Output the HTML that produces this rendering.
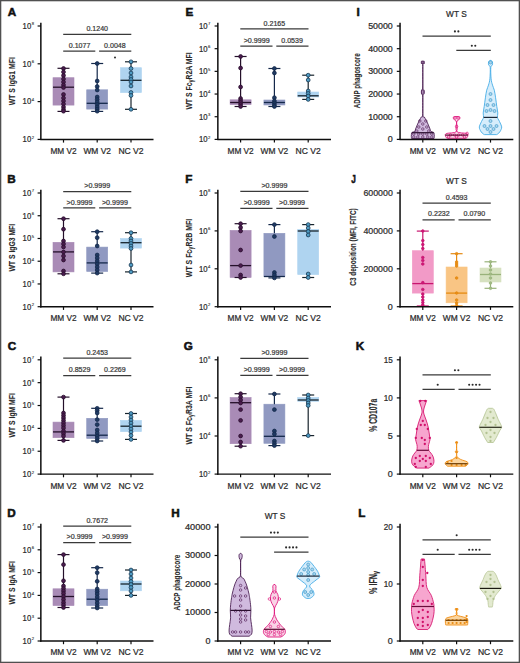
<!DOCTYPE html>
<html><head><meta charset="utf-8"><style>
html,body{margin:0;padding:0;background:#fff;}
.wrap{position:relative;width:520px;height:663px;overflow:hidden;background:#fff;}
svg{position:absolute;left:0;top:0;}
text{font-family:"Liberation Sans", sans-serif;}
</style></head><body><div class="wrap">
<svg width="520" height="663" viewBox="0 0 520 663" shape-rendering="geometricPrecision">
<rect x="0" y="0" width="520" height="663" fill="#fff"/>
<line x1="37.6" y1="26" x2="41" y2="26" stroke="#0e0e0e" stroke-width="1.2" />
<text x="31.2" y="28.85" font-size="9.0" text-anchor="end" font-weight="normal" fill="#2a2a2a" stroke="#2a2a2a" stroke-width="0.22" textLength="8.6" lengthAdjust="spacingAndGlyphs" >10</text>
<text x="31.7" y="25.4" font-size="4.2" text-anchor="start" font-weight="normal" fill="#2a2a2a" stroke="#2a2a2a" stroke-width="0.1" >8</text>
<line x1="37.6" y1="63.8" x2="41" y2="63.8" stroke="#0e0e0e" stroke-width="1.2" />
<text x="31.2" y="66.65" font-size="9.0" text-anchor="end" font-weight="normal" fill="#2a2a2a" stroke="#2a2a2a" stroke-width="0.22" textLength="8.6" lengthAdjust="spacingAndGlyphs" >10</text>
<text x="31.7" y="63.2" font-size="4.2" text-anchor="start" font-weight="normal" fill="#2a2a2a" stroke="#2a2a2a" stroke-width="0.1" >6</text>
<line x1="37.6" y1="101.6" x2="41" y2="101.6" stroke="#0e0e0e" stroke-width="1.2" />
<text x="31.2" y="104.45" font-size="9.0" text-anchor="end" font-weight="normal" fill="#2a2a2a" stroke="#2a2a2a" stroke-width="0.22" textLength="8.6" lengthAdjust="spacingAndGlyphs" >10</text>
<text x="31.7" y="101" font-size="4.2" text-anchor="start" font-weight="normal" fill="#2a2a2a" stroke="#2a2a2a" stroke-width="0.1" >4</text>
<line x1="37.6" y1="139.4" x2="41" y2="139.4" stroke="#0e0e0e" stroke-width="1.2" />
<text x="31.2" y="142.25" font-size="9.0" text-anchor="end" font-weight="normal" fill="#2a2a2a" stroke="#2a2a2a" stroke-width="0.22" textLength="8.6" lengthAdjust="spacingAndGlyphs" >10</text>
<text x="31.7" y="138.8" font-size="4.2" text-anchor="start" font-weight="normal" fill="#2a2a2a" stroke="#2a2a2a" stroke-width="0.1" >2</text>
<line x1="63.5" y1="139.4" x2="63.5" y2="142.6" stroke="#0e0e0e" stroke-width="1.2" />
<line x1="97.2" y1="139.4" x2="97.2" y2="142.6" stroke="#0e0e0e" stroke-width="1.2" />
<line x1="131" y1="139.4" x2="131" y2="142.6" stroke="#0e0e0e" stroke-width="1.2" />
<text x="63.5" y="153.8" font-size="8.3" text-anchor="middle" font-weight="normal" fill="#2a2a2a" stroke="#2a2a2a" stroke-width="0.22" textLength="26.2" lengthAdjust="spacingAndGlyphs" >MM V2</text>
<text x="97.2" y="153.8" font-size="8.3" text-anchor="middle" font-weight="normal" fill="#2a2a2a" stroke="#2a2a2a" stroke-width="0.22" textLength="27.6" lengthAdjust="spacingAndGlyphs" >WM V2</text>
<text x="131" y="153.8" font-size="8.3" text-anchor="middle" font-weight="normal" fill="#2a2a2a" stroke="#2a2a2a" stroke-width="0.22" textLength="25.2" lengthAdjust="spacingAndGlyphs" >NC V2</text>
<text transform="translate(14.7,81.2) rotate(-90)" font-size="9.3" text-anchor="middle" font-weight="bold" fill="#2a2a2a" stroke="#2a2a2a" stroke-width="0.1" textLength="48" lengthAdjust="spacingAndGlyphs">WT S IgG1 MFI</text>
<text x="7.75" y="15.55" font-size="11.7" text-anchor="start" font-weight="bold" fill="#111" stroke="#111" stroke-width="0.55" >A</text>
<line x1="63.2" y1="34.3" x2="131.3" y2="34.3" stroke="#3a3a3a" stroke-width="1.25" />
<text x="97.25" y="30.9" font-size="7.0" text-anchor="middle" font-weight="normal" fill="#3a3a3a" stroke="#3a3a3a" stroke-width="0.22" textLength="21.6" lengthAdjust="spacingAndGlyphs" >0.1240</text>
<line x1="63.2" y1="51" x2="95.3" y2="51" stroke="#3a3a3a" stroke-width="1.25" />
<text x="79.55" y="47.6" font-size="7.0" text-anchor="middle" font-weight="normal" fill="#3a3a3a" stroke="#3a3a3a" stroke-width="0.22" textLength="21.6" lengthAdjust="spacingAndGlyphs" >0.1077</text>
<line x1="99.1" y1="51" x2="131.3" y2="51" stroke="#3a3a3a" stroke-width="1.25" />
<text x="114.9" y="47.6" font-size="7.0" text-anchor="middle" font-weight="normal" fill="#3a3a3a" stroke="#3a3a3a" stroke-width="0.22" textLength="21.6" lengthAdjust="spacingAndGlyphs" >0.0048</text>
<circle cx="115" cy="57.6" r="1.0" fill="#2a2a2a"/>
<rect x="53" y="77.7" width="21" height="27.4" fill="#a98bb6" stroke="#a98bb6" stroke-width="0.6"/>
<line x1="63.5" y1="68.3" x2="63.5" y2="77.7" stroke="#24102a" stroke-width="1.2" />
<line x1="63.5" y1="105.1" x2="63.5" y2="111.4" stroke="#24102a" stroke-width="1.2" />
<line x1="57.5" y1="68.3" x2="69.5" y2="68.3" stroke="#24102a" stroke-width="1.2" />
<line x1="57.5" y1="111.4" x2="69.5" y2="111.4" stroke="#24102a" stroke-width="1.2" />
<line x1="53" y1="87.2" x2="74" y2="87.2" stroke="#24102a" stroke-width="1.3" />
<circle cx="63.5" cy="68.5" r="1.9" fill="#4a1c4d" stroke="#2a0f2e" stroke-width="0.8"/>
<circle cx="63.5" cy="72" r="1.9" fill="#4a1c4d" stroke="#2a0f2e" stroke-width="0.8"/>
<circle cx="63.5" cy="75.5" r="1.9" fill="#4a1c4d" stroke="#2a0f2e" stroke-width="0.8"/>
<circle cx="63.5" cy="79" r="1.9" fill="#4a1c4d" stroke="#2a0f2e" stroke-width="0.8"/>
<circle cx="63.5" cy="82" r="1.9" fill="#4a1c4d" stroke="#2a0f2e" stroke-width="0.8"/>
<circle cx="63.5" cy="85" r="1.9" fill="#4a1c4d" stroke="#2a0f2e" stroke-width="0.8"/>
<circle cx="63.5" cy="87.5" r="1.9" fill="#4a1c4d" stroke="#2a0f2e" stroke-width="0.8"/>
<circle cx="63.5" cy="94.5" r="1.9" fill="#4a1c4d" stroke="#2a0f2e" stroke-width="0.8"/>
<circle cx="63.5" cy="98" r="1.9" fill="#4a1c4d" stroke="#2a0f2e" stroke-width="0.8"/>
<circle cx="63.5" cy="101" r="1.9" fill="#4a1c4d" stroke="#2a0f2e" stroke-width="0.8"/>
<circle cx="63.5" cy="104" r="1.9" fill="#4a1c4d" stroke="#2a0f2e" stroke-width="0.8"/>
<circle cx="63.5" cy="107" r="1.9" fill="#4a1c4d" stroke="#2a0f2e" stroke-width="0.8"/>
<circle cx="63.5" cy="109.5" r="1.9" fill="#4a1c4d" stroke="#2a0f2e" stroke-width="0.8"/>
<circle cx="63.5" cy="111.2" r="1.9" fill="#4a1c4d" stroke="#2a0f2e" stroke-width="0.8"/>
<rect x="86.7" y="89.8" width="21" height="19.3" fill="#9099c1" stroke="#9099c1" stroke-width="0.6"/>
<line x1="97.2" y1="63.5" x2="97.2" y2="89.8" stroke="#14284a" stroke-width="1.2" />
<line x1="97.2" y1="109.1" x2="97.2" y2="111.4" stroke="#14284a" stroke-width="1.2" />
<line x1="91.2" y1="63.5" x2="103.2" y2="63.5" stroke="#14284a" stroke-width="1.2" />
<line x1="91.2" y1="111.4" x2="103.2" y2="111.4" stroke="#14284a" stroke-width="1.2" />
<line x1="86.7" y1="103.3" x2="107.7" y2="103.3" stroke="#14284a" stroke-width="1.3" />
<circle cx="97.2" cy="63.5" r="1.9" fill="#1f3a62" stroke="#14284a" stroke-width="0.8"/>
<circle cx="97.2" cy="81" r="1.9" fill="#1f3a62" stroke="#14284a" stroke-width="0.8"/>
<circle cx="97.2" cy="86.5" r="1.9" fill="#1f3a62" stroke="#14284a" stroke-width="0.8"/>
<circle cx="97.2" cy="90" r="1.9" fill="#1f3a62" stroke="#14284a" stroke-width="0.8"/>
<circle cx="97.2" cy="97" r="1.9" fill="#1f3a62" stroke="#14284a" stroke-width="0.8"/>
<circle cx="97.2" cy="99.5" r="1.9" fill="#1f3a62" stroke="#14284a" stroke-width="0.8"/>
<circle cx="97.2" cy="102" r="1.9" fill="#1f3a62" stroke="#14284a" stroke-width="0.8"/>
<circle cx="97.2" cy="104.5" r="1.9" fill="#1f3a62" stroke="#14284a" stroke-width="0.8"/>
<circle cx="97.2" cy="107" r="1.9" fill="#1f3a62" stroke="#14284a" stroke-width="0.8"/>
<circle cx="97.2" cy="109.2" r="1.9" fill="#1f3a62" stroke="#14284a" stroke-width="0.8"/>
<circle cx="97.2" cy="111.2" r="1.9" fill="#1f3a62" stroke="#14284a" stroke-width="0.8"/>
<rect x="120.5" y="67.7" width="21" height="24.9" fill="#afd4f0" stroke="#afd4f0" stroke-width="0.6"/>
<line x1="131" y1="61.8" x2="131" y2="67.7" stroke="#18242c" stroke-width="1.2" />
<line x1="131" y1="92.6" x2="131" y2="109.3" stroke="#18242c" stroke-width="1.2" />
<line x1="125" y1="61.8" x2="137" y2="61.8" stroke="#18242c" stroke-width="1.2" />
<line x1="125" y1="109.3" x2="137" y2="109.3" stroke="#18242c" stroke-width="1.2" />
<line x1="120.5" y1="80.3" x2="141.5" y2="80.3" stroke="#18242c" stroke-width="1.3" />
<circle cx="131" cy="61.8" r="1.9" fill="#4f9cc4" stroke="#163650" stroke-width="0.8"/>
<circle cx="131" cy="68.5" r="1.9" fill="#4f9cc4" stroke="#163650" stroke-width="0.8"/>
<circle cx="131" cy="73" r="1.9" fill="#4f9cc4" stroke="#163650" stroke-width="0.8"/>
<circle cx="131" cy="77" r="1.9" fill="#4f9cc4" stroke="#163650" stroke-width="0.8"/>
<circle cx="131" cy="79.5" r="1.9" fill="#4f9cc4" stroke="#163650" stroke-width="0.8"/>
<circle cx="131" cy="82" r="1.9" fill="#4f9cc4" stroke="#163650" stroke-width="0.8"/>
<circle cx="131" cy="86" r="1.9" fill="#4f9cc4" stroke="#163650" stroke-width="0.8"/>
<circle cx="131" cy="92.5" r="1.9" fill="#4f9cc4" stroke="#163650" stroke-width="0.8"/>
<circle cx="131" cy="95.5" r="1.9" fill="#4f9cc4" stroke="#163650" stroke-width="0.8"/>
<circle cx="131" cy="109.3" r="1.9" fill="#4f9cc4" stroke="#163650" stroke-width="0.8"/>
<line x1="37.6" y1="193" x2="41" y2="193" stroke="#0e0e0e" stroke-width="1.2" />
<text x="31.2" y="195.85" font-size="9.0" text-anchor="end" font-weight="normal" fill="#2a2a2a" stroke="#2a2a2a" stroke-width="0.22" textLength="8.6" lengthAdjust="spacingAndGlyphs" >10</text>
<text x="31.7" y="192.4" font-size="4.2" text-anchor="start" font-weight="normal" fill="#2a2a2a" stroke="#2a2a2a" stroke-width="0.1" >7</text>
<line x1="37.6" y1="215.74" x2="41" y2="215.74" stroke="#0e0e0e" stroke-width="1.2" />
<text x="31.2" y="218.59" font-size="9.0" text-anchor="end" font-weight="normal" fill="#2a2a2a" stroke="#2a2a2a" stroke-width="0.22" textLength="8.6" lengthAdjust="spacingAndGlyphs" >10</text>
<text x="31.7" y="215.14" font-size="4.2" text-anchor="start" font-weight="normal" fill="#2a2a2a" stroke="#2a2a2a" stroke-width="0.1" >6</text>
<line x1="37.6" y1="238.48" x2="41" y2="238.48" stroke="#0e0e0e" stroke-width="1.2" />
<text x="31.2" y="241.33" font-size="9.0" text-anchor="end" font-weight="normal" fill="#2a2a2a" stroke="#2a2a2a" stroke-width="0.22" textLength="8.6" lengthAdjust="spacingAndGlyphs" >10</text>
<text x="31.7" y="237.88" font-size="4.2" text-anchor="start" font-weight="normal" fill="#2a2a2a" stroke="#2a2a2a" stroke-width="0.1" >5</text>
<line x1="37.6" y1="261.22" x2="41" y2="261.22" stroke="#0e0e0e" stroke-width="1.2" />
<text x="31.2" y="264.07" font-size="9.0" text-anchor="end" font-weight="normal" fill="#2a2a2a" stroke="#2a2a2a" stroke-width="0.22" textLength="8.6" lengthAdjust="spacingAndGlyphs" >10</text>
<text x="31.7" y="260.62" font-size="4.2" text-anchor="start" font-weight="normal" fill="#2a2a2a" stroke="#2a2a2a" stroke-width="0.1" >4</text>
<line x1="37.6" y1="283.96" x2="41" y2="283.96" stroke="#0e0e0e" stroke-width="1.2" />
<text x="31.2" y="286.81" font-size="9.0" text-anchor="end" font-weight="normal" fill="#2a2a2a" stroke="#2a2a2a" stroke-width="0.22" textLength="8.6" lengthAdjust="spacingAndGlyphs" >10</text>
<text x="31.7" y="283.36" font-size="4.2" text-anchor="start" font-weight="normal" fill="#2a2a2a" stroke="#2a2a2a" stroke-width="0.1" >3</text>
<line x1="37.6" y1="306.7" x2="41" y2="306.7" stroke="#0e0e0e" stroke-width="1.2" />
<text x="31.2" y="309.55" font-size="9.0" text-anchor="end" font-weight="normal" fill="#2a2a2a" stroke="#2a2a2a" stroke-width="0.22" textLength="8.6" lengthAdjust="spacingAndGlyphs" >10</text>
<text x="31.7" y="306.1" font-size="4.2" text-anchor="start" font-weight="normal" fill="#2a2a2a" stroke="#2a2a2a" stroke-width="0.1" >2</text>
<line x1="63.5" y1="306.7" x2="63.5" y2="309.9" stroke="#0e0e0e" stroke-width="1.2" />
<line x1="97.2" y1="306.7" x2="97.2" y2="309.9" stroke="#0e0e0e" stroke-width="1.2" />
<line x1="131" y1="306.7" x2="131" y2="309.9" stroke="#0e0e0e" stroke-width="1.2" />
<text x="63.5" y="321.1" font-size="8.3" text-anchor="middle" font-weight="normal" fill="#2a2a2a" stroke="#2a2a2a" stroke-width="0.22" textLength="26.2" lengthAdjust="spacingAndGlyphs" >MM V2</text>
<text x="97.2" y="321.1" font-size="8.3" text-anchor="middle" font-weight="normal" fill="#2a2a2a" stroke="#2a2a2a" stroke-width="0.22" textLength="27.6" lengthAdjust="spacingAndGlyphs" >WM V2</text>
<text x="131" y="321.1" font-size="8.3" text-anchor="middle" font-weight="normal" fill="#2a2a2a" stroke="#2a2a2a" stroke-width="0.22" textLength="25.2" lengthAdjust="spacingAndGlyphs" >NC V2</text>
<text transform="translate(14.7,247.7) rotate(-90)" font-size="9.3" text-anchor="middle" font-weight="bold" fill="#2a2a2a" stroke="#2a2a2a" stroke-width="0.1" textLength="47.6" lengthAdjust="spacingAndGlyphs">WT S IgG3 MFI</text>
<text x="7.15" y="182.75" font-size="11.7" text-anchor="start" font-weight="bold" fill="#111" stroke="#111" stroke-width="0.55" >B</text>
<line x1="63.2" y1="191.5" x2="131.3" y2="191.5" stroke="#3a3a3a" stroke-width="1.25" />
<text x="97.25" y="188.1" font-size="7.0" text-anchor="middle" font-weight="normal" fill="#3a3a3a" stroke="#3a3a3a" stroke-width="0.22" textLength="26" lengthAdjust="spacingAndGlyphs" >&gt;0.9999</text>
<line x1="63.2" y1="207.9" x2="95.3" y2="207.9" stroke="#3a3a3a" stroke-width="1.25" />
<text x="79.55" y="204.5" font-size="7.0" text-anchor="middle" font-weight="normal" fill="#3a3a3a" stroke="#3a3a3a" stroke-width="0.22" textLength="26" lengthAdjust="spacingAndGlyphs" >&gt;0.9999</text>
<line x1="99.1" y1="207.9" x2="131.3" y2="207.9" stroke="#3a3a3a" stroke-width="1.25" />
<text x="114.9" y="204.5" font-size="7.0" text-anchor="middle" font-weight="normal" fill="#3a3a3a" stroke="#3a3a3a" stroke-width="0.22" textLength="26" lengthAdjust="spacingAndGlyphs" >&gt;0.9999</text>
<rect x="53" y="242.3" width="21" height="29.6" fill="#a98bb6" stroke="#a98bb6" stroke-width="0.6"/>
<line x1="63.5" y1="218.7" x2="63.5" y2="242.3" stroke="#24102a" stroke-width="1.2" />
<line x1="63.5" y1="271.9" x2="63.5" y2="273.8" stroke="#24102a" stroke-width="1.2" />
<line x1="57.5" y1="218.7" x2="69.5" y2="218.7" stroke="#24102a" stroke-width="1.2" />
<line x1="57.5" y1="273.8" x2="69.5" y2="273.8" stroke="#24102a" stroke-width="1.2" />
<line x1="53" y1="251.9" x2="74" y2="251.9" stroke="#24102a" stroke-width="1.3" />
<circle cx="63.5" cy="218.7" r="1.9" fill="#4a1c4d" stroke="#2a0f2e" stroke-width="0.8"/>
<circle cx="63.5" cy="229.2" r="1.9" fill="#4a1c4d" stroke="#2a0f2e" stroke-width="0.8"/>
<circle cx="63.5" cy="241" r="1.9" fill="#4a1c4d" stroke="#2a0f2e" stroke-width="0.8"/>
<circle cx="63.5" cy="244" r="1.9" fill="#4a1c4d" stroke="#2a0f2e" stroke-width="0.8"/>
<circle cx="63.5" cy="247" r="1.9" fill="#4a1c4d" stroke="#2a0f2e" stroke-width="0.8"/>
<circle cx="63.5" cy="252" r="1.9" fill="#4a1c4d" stroke="#2a0f2e" stroke-width="0.8"/>
<circle cx="63.5" cy="256" r="1.9" fill="#4a1c4d" stroke="#2a0f2e" stroke-width="0.8"/>
<circle cx="63.5" cy="260" r="1.9" fill="#4a1c4d" stroke="#2a0f2e" stroke-width="0.8"/>
<circle cx="63.5" cy="271" r="1.9" fill="#4a1c4d" stroke="#2a0f2e" stroke-width="0.8"/>
<circle cx="63.5" cy="273.8" r="1.9" fill="#4a1c4d" stroke="#2a0f2e" stroke-width="0.8"/>
<rect x="86.7" y="247.1" width="21" height="24.4" fill="#9099c1" stroke="#9099c1" stroke-width="0.6"/>
<line x1="97.2" y1="231.7" x2="97.2" y2="247.1" stroke="#14284a" stroke-width="1.2" />
<line x1="97.2" y1="271.5" x2="97.2" y2="273.1" stroke="#14284a" stroke-width="1.2" />
<line x1="91.2" y1="231.7" x2="103.2" y2="231.7" stroke="#14284a" stroke-width="1.2" />
<line x1="91.2" y1="273.1" x2="103.2" y2="273.1" stroke="#14284a" stroke-width="1.2" />
<line x1="86.7" y1="262.9" x2="107.7" y2="262.9" stroke="#14284a" stroke-width="1.3" />
<circle cx="97.2" cy="231.7" r="1.9" fill="#1f3a62" stroke="#14284a" stroke-width="0.8"/>
<circle cx="97.2" cy="237.7" r="1.9" fill="#1f3a62" stroke="#14284a" stroke-width="0.8"/>
<circle cx="97.2" cy="246" r="1.9" fill="#1f3a62" stroke="#14284a" stroke-width="0.8"/>
<circle cx="97.2" cy="255" r="1.9" fill="#1f3a62" stroke="#14284a" stroke-width="0.8"/>
<circle cx="97.2" cy="258" r="1.9" fill="#1f3a62" stroke="#14284a" stroke-width="0.8"/>
<circle cx="97.2" cy="261" r="1.9" fill="#1f3a62" stroke="#14284a" stroke-width="0.8"/>
<circle cx="97.2" cy="264" r="1.9" fill="#1f3a62" stroke="#14284a" stroke-width="0.8"/>
<circle cx="97.2" cy="267" r="1.9" fill="#1f3a62" stroke="#14284a" stroke-width="0.8"/>
<circle cx="97.2" cy="270" r="1.9" fill="#1f3a62" stroke="#14284a" stroke-width="0.8"/>
<circle cx="97.2" cy="273.1" r="1.9" fill="#1f3a62" stroke="#14284a" stroke-width="0.8"/>
<rect x="120.5" y="238.5" width="21" height="9.6" fill="#afd4f0" stroke="#afd4f0" stroke-width="0.6"/>
<line x1="131" y1="232.7" x2="131" y2="238.5" stroke="#18242c" stroke-width="1.2" />
<line x1="131" y1="248.1" x2="131" y2="271.9" stroke="#18242c" stroke-width="1.2" />
<line x1="125" y1="232.7" x2="137" y2="232.7" stroke="#18242c" stroke-width="1.2" />
<line x1="125" y1="271.9" x2="137" y2="271.9" stroke="#18242c" stroke-width="1.2" />
<line x1="120.5" y1="242.7" x2="141.5" y2="242.7" stroke="#18242c" stroke-width="1.3" />
<circle cx="131" cy="232.7" r="1.9" fill="#4f9cc4" stroke="#163650" stroke-width="0.8"/>
<circle cx="131" cy="238.5" r="1.9" fill="#4f9cc4" stroke="#163650" stroke-width="0.8"/>
<circle cx="131" cy="241" r="1.9" fill="#4f9cc4" stroke="#163650" stroke-width="0.8"/>
<circle cx="131" cy="243.5" r="1.9" fill="#4f9cc4" stroke="#163650" stroke-width="0.8"/>
<circle cx="131" cy="246" r="1.9" fill="#4f9cc4" stroke="#163650" stroke-width="0.8"/>
<circle cx="131" cy="248.5" r="1.9" fill="#4f9cc4" stroke="#163650" stroke-width="0.8"/>
<circle cx="131" cy="265" r="1.9" fill="#4f9cc4" stroke="#163650" stroke-width="0.8"/>
<circle cx="131" cy="271.9" r="1.9" fill="#4f9cc4" stroke="#163650" stroke-width="0.8"/>
<line x1="37.6" y1="359.8" x2="41" y2="359.8" stroke="#0e0e0e" stroke-width="1.2" />
<text x="31.2" y="362.65" font-size="9.0" text-anchor="end" font-weight="normal" fill="#2a2a2a" stroke="#2a2a2a" stroke-width="0.22" textLength="8.6" lengthAdjust="spacingAndGlyphs" >10</text>
<text x="31.7" y="359.2" font-size="4.2" text-anchor="start" font-weight="normal" fill="#2a2a2a" stroke="#2a2a2a" stroke-width="0.1" >7</text>
<line x1="37.6" y1="382.66" x2="41" y2="382.66" stroke="#0e0e0e" stroke-width="1.2" />
<text x="31.2" y="385.51" font-size="9.0" text-anchor="end" font-weight="normal" fill="#2a2a2a" stroke="#2a2a2a" stroke-width="0.22" textLength="8.6" lengthAdjust="spacingAndGlyphs" >10</text>
<text x="31.7" y="382.06" font-size="4.2" text-anchor="start" font-weight="normal" fill="#2a2a2a" stroke="#2a2a2a" stroke-width="0.1" >6</text>
<line x1="37.6" y1="405.52" x2="41" y2="405.52" stroke="#0e0e0e" stroke-width="1.2" />
<text x="31.2" y="408.37" font-size="9.0" text-anchor="end" font-weight="normal" fill="#2a2a2a" stroke="#2a2a2a" stroke-width="0.22" textLength="8.6" lengthAdjust="spacingAndGlyphs" >10</text>
<text x="31.7" y="404.92" font-size="4.2" text-anchor="start" font-weight="normal" fill="#2a2a2a" stroke="#2a2a2a" stroke-width="0.1" >5</text>
<line x1="37.6" y1="428.38" x2="41" y2="428.38" stroke="#0e0e0e" stroke-width="1.2" />
<text x="31.2" y="431.23" font-size="9.0" text-anchor="end" font-weight="normal" fill="#2a2a2a" stroke="#2a2a2a" stroke-width="0.22" textLength="8.6" lengthAdjust="spacingAndGlyphs" >10</text>
<text x="31.7" y="427.78" font-size="4.2" text-anchor="start" font-weight="normal" fill="#2a2a2a" stroke="#2a2a2a" stroke-width="0.1" >4</text>
<line x1="37.6" y1="451.24" x2="41" y2="451.24" stroke="#0e0e0e" stroke-width="1.2" />
<text x="31.2" y="454.09" font-size="9.0" text-anchor="end" font-weight="normal" fill="#2a2a2a" stroke="#2a2a2a" stroke-width="0.22" textLength="8.6" lengthAdjust="spacingAndGlyphs" >10</text>
<text x="31.7" y="450.64" font-size="4.2" text-anchor="start" font-weight="normal" fill="#2a2a2a" stroke="#2a2a2a" stroke-width="0.1" >3</text>
<line x1="37.6" y1="474.1" x2="41" y2="474.1" stroke="#0e0e0e" stroke-width="1.2" />
<text x="31.2" y="476.95" font-size="9.0" text-anchor="end" font-weight="normal" fill="#2a2a2a" stroke="#2a2a2a" stroke-width="0.22" textLength="8.6" lengthAdjust="spacingAndGlyphs" >10</text>
<text x="31.7" y="473.5" font-size="4.2" text-anchor="start" font-weight="normal" fill="#2a2a2a" stroke="#2a2a2a" stroke-width="0.1" >2</text>
<line x1="63.5" y1="474.1" x2="63.5" y2="477.3" stroke="#0e0e0e" stroke-width="1.2" />
<line x1="97.2" y1="474.1" x2="97.2" y2="477.3" stroke="#0e0e0e" stroke-width="1.2" />
<line x1="131" y1="474.1" x2="131" y2="477.3" stroke="#0e0e0e" stroke-width="1.2" />
<text x="63.5" y="488.5" font-size="8.3" text-anchor="middle" font-weight="normal" fill="#2a2a2a" stroke="#2a2a2a" stroke-width="0.22" textLength="26.2" lengthAdjust="spacingAndGlyphs" >MM V2</text>
<text x="97.2" y="488.5" font-size="8.3" text-anchor="middle" font-weight="normal" fill="#2a2a2a" stroke="#2a2a2a" stroke-width="0.22" textLength="27.6" lengthAdjust="spacingAndGlyphs" >WM V2</text>
<text x="131" y="488.5" font-size="8.3" text-anchor="middle" font-weight="normal" fill="#2a2a2a" stroke="#2a2a2a" stroke-width="0.22" textLength="25.2" lengthAdjust="spacingAndGlyphs" >NC V2</text>
<text transform="translate(14.7,415.3) rotate(-90)" font-size="9.3" text-anchor="middle" font-weight="bold" fill="#2a2a2a" stroke="#2a2a2a" stroke-width="0.1" textLength="44.2" lengthAdjust="spacingAndGlyphs">WT S IgM MFI</text>
<text x="7.75" y="350.05" font-size="11.7" text-anchor="start" font-weight="bold" fill="#111" stroke="#111" stroke-width="0.55" >C</text>
<line x1="63.2" y1="358.2" x2="131.3" y2="358.2" stroke="#3a3a3a" stroke-width="1.25" />
<text x="97.25" y="354.8" font-size="7.0" text-anchor="middle" font-weight="normal" fill="#3a3a3a" stroke="#3a3a3a" stroke-width="0.22" textLength="21.6" lengthAdjust="spacingAndGlyphs" >0.2453</text>
<line x1="63.2" y1="375.5" x2="95.3" y2="375.5" stroke="#3a3a3a" stroke-width="1.25" />
<text x="79.55" y="372.1" font-size="7.0" text-anchor="middle" font-weight="normal" fill="#3a3a3a" stroke="#3a3a3a" stroke-width="0.22" textLength="21.6" lengthAdjust="spacingAndGlyphs" >0.8529</text>
<line x1="99.1" y1="375.5" x2="131.3" y2="375.5" stroke="#3a3a3a" stroke-width="1.25" />
<text x="114.9" y="372.1" font-size="7.0" text-anchor="middle" font-weight="normal" fill="#3a3a3a" stroke="#3a3a3a" stroke-width="0.22" textLength="21.6" lengthAdjust="spacingAndGlyphs" >0.2269</text>
<rect x="53" y="422.1" width="21" height="15.6" fill="#a98bb6" stroke="#a98bb6" stroke-width="0.6"/>
<line x1="63.5" y1="397.1" x2="63.5" y2="422.1" stroke="#24102a" stroke-width="1.2" />
<line x1="63.5" y1="437.7" x2="63.5" y2="440.4" stroke="#24102a" stroke-width="1.2" />
<line x1="57.5" y1="397.1" x2="69.5" y2="397.1" stroke="#24102a" stroke-width="1.2" />
<line x1="57.5" y1="440.4" x2="69.5" y2="440.4" stroke="#24102a" stroke-width="1.2" />
<line x1="53" y1="431.9" x2="74" y2="431.9" stroke="#24102a" stroke-width="1.3" />
<circle cx="63.5" cy="397.1" r="1.9" fill="#4a1c4d" stroke="#2a0f2e" stroke-width="0.8"/>
<circle cx="63.5" cy="413" r="1.9" fill="#4a1c4d" stroke="#2a0f2e" stroke-width="0.8"/>
<circle cx="63.5" cy="415.5" r="1.9" fill="#4a1c4d" stroke="#2a0f2e" stroke-width="0.8"/>
<circle cx="63.5" cy="418" r="1.9" fill="#4a1c4d" stroke="#2a0f2e" stroke-width="0.8"/>
<circle cx="63.5" cy="420.5" r="1.9" fill="#4a1c4d" stroke="#2a0f2e" stroke-width="0.8"/>
<circle cx="63.5" cy="423" r="1.9" fill="#4a1c4d" stroke="#2a0f2e" stroke-width="0.8"/>
<circle cx="63.5" cy="425.5" r="1.9" fill="#4a1c4d" stroke="#2a0f2e" stroke-width="0.8"/>
<circle cx="63.5" cy="428" r="1.9" fill="#4a1c4d" stroke="#2a0f2e" stroke-width="0.8"/>
<circle cx="63.5" cy="431" r="1.9" fill="#4a1c4d" stroke="#2a0f2e" stroke-width="0.8"/>
<circle cx="63.5" cy="433.5" r="1.9" fill="#4a1c4d" stroke="#2a0f2e" stroke-width="0.8"/>
<circle cx="63.5" cy="436" r="1.9" fill="#4a1c4d" stroke="#2a0f2e" stroke-width="0.8"/>
<circle cx="63.5" cy="440.4" r="1.9" fill="#4a1c4d" stroke="#2a0f2e" stroke-width="0.8"/>
<rect x="86.7" y="418.3" width="21" height="20.2" fill="#9099c1" stroke="#9099c1" stroke-width="0.6"/>
<line x1="97.2" y1="408.3" x2="97.2" y2="418.3" stroke="#14284a" stroke-width="1.2" />
<line x1="97.2" y1="438.5" x2="97.2" y2="441" stroke="#14284a" stroke-width="1.2" />
<line x1="91.2" y1="408.3" x2="103.2" y2="408.3" stroke="#14284a" stroke-width="1.2" />
<line x1="91.2" y1="441" x2="103.2" y2="441" stroke="#14284a" stroke-width="1.2" />
<line x1="86.7" y1="435.2" x2="107.7" y2="435.2" stroke="#14284a" stroke-width="1.3" />
<circle cx="97.2" cy="408.3" r="1.9" fill="#1f3a62" stroke="#14284a" stroke-width="0.8"/>
<circle cx="97.2" cy="410.5" r="1.9" fill="#1f3a62" stroke="#14284a" stroke-width="0.8"/>
<circle cx="97.2" cy="413" r="1.9" fill="#1f3a62" stroke="#14284a" stroke-width="0.8"/>
<circle cx="97.2" cy="419.6" r="1.9" fill="#1f3a62" stroke="#14284a" stroke-width="0.8"/>
<circle cx="97.2" cy="424.6" r="1.9" fill="#1f3a62" stroke="#14284a" stroke-width="0.8"/>
<circle cx="97.2" cy="430" r="1.9" fill="#1f3a62" stroke="#14284a" stroke-width="0.8"/>
<circle cx="97.2" cy="433" r="1.9" fill="#1f3a62" stroke="#14284a" stroke-width="0.8"/>
<circle cx="97.2" cy="436" r="1.9" fill="#1f3a62" stroke="#14284a" stroke-width="0.8"/>
<circle cx="97.2" cy="438.5" r="1.9" fill="#1f3a62" stroke="#14284a" stroke-width="0.8"/>
<circle cx="97.2" cy="441" r="1.9" fill="#1f3a62" stroke="#14284a" stroke-width="0.8"/>
<rect x="120.5" y="420.4" width="21" height="11.3" fill="#afd4f0" stroke="#afd4f0" stroke-width="0.6"/>
<line x1="131" y1="413.5" x2="131" y2="420.4" stroke="#18242c" stroke-width="1.2" />
<line x1="131" y1="431.7" x2="131" y2="439.4" stroke="#18242c" stroke-width="1.2" />
<line x1="125" y1="413.5" x2="137" y2="413.5" stroke="#18242c" stroke-width="1.2" />
<line x1="125" y1="439.4" x2="137" y2="439.4" stroke="#18242c" stroke-width="1.2" />
<line x1="120.5" y1="426.2" x2="141.5" y2="426.2" stroke="#18242c" stroke-width="1.3" />
<circle cx="131" cy="413.5" r="1.9" fill="#4f9cc4" stroke="#163650" stroke-width="0.8"/>
<circle cx="131" cy="417" r="1.9" fill="#4f9cc4" stroke="#163650" stroke-width="0.8"/>
<circle cx="131" cy="420" r="1.9" fill="#4f9cc4" stroke="#163650" stroke-width="0.8"/>
<circle cx="131" cy="423" r="1.9" fill="#4f9cc4" stroke="#163650" stroke-width="0.8"/>
<circle cx="131" cy="426" r="1.9" fill="#4f9cc4" stroke="#163650" stroke-width="0.8"/>
<circle cx="131" cy="429" r="1.9" fill="#4f9cc4" stroke="#163650" stroke-width="0.8"/>
<circle cx="131" cy="432" r="1.9" fill="#4f9cc4" stroke="#163650" stroke-width="0.8"/>
<circle cx="131" cy="435.5" r="1.9" fill="#4f9cc4" stroke="#163650" stroke-width="0.8"/>
<circle cx="131" cy="439.4" r="1.9" fill="#4f9cc4" stroke="#163650" stroke-width="0.8"/>
<line x1="37.6" y1="527" x2="41" y2="527" stroke="#0e0e0e" stroke-width="1.2" />
<text x="31.2" y="529.85" font-size="9.0" text-anchor="end" font-weight="normal" fill="#2a2a2a" stroke="#2a2a2a" stroke-width="0.22" textLength="8.6" lengthAdjust="spacingAndGlyphs" >10</text>
<text x="31.7" y="526.4" font-size="4.2" text-anchor="start" font-weight="normal" fill="#2a2a2a" stroke="#2a2a2a" stroke-width="0.1" >7</text>
<line x1="37.6" y1="549.8" x2="41" y2="549.8" stroke="#0e0e0e" stroke-width="1.2" />
<text x="31.2" y="552.65" font-size="9.0" text-anchor="end" font-weight="normal" fill="#2a2a2a" stroke="#2a2a2a" stroke-width="0.22" textLength="8.6" lengthAdjust="spacingAndGlyphs" >10</text>
<text x="31.7" y="549.2" font-size="4.2" text-anchor="start" font-weight="normal" fill="#2a2a2a" stroke="#2a2a2a" stroke-width="0.1" >6</text>
<line x1="37.6" y1="572.6" x2="41" y2="572.6" stroke="#0e0e0e" stroke-width="1.2" />
<text x="31.2" y="575.45" font-size="9.0" text-anchor="end" font-weight="normal" fill="#2a2a2a" stroke="#2a2a2a" stroke-width="0.22" textLength="8.6" lengthAdjust="spacingAndGlyphs" >10</text>
<text x="31.7" y="572" font-size="4.2" text-anchor="start" font-weight="normal" fill="#2a2a2a" stroke="#2a2a2a" stroke-width="0.1" >5</text>
<line x1="37.6" y1="595.4" x2="41" y2="595.4" stroke="#0e0e0e" stroke-width="1.2" />
<text x="31.2" y="598.25" font-size="9.0" text-anchor="end" font-weight="normal" fill="#2a2a2a" stroke="#2a2a2a" stroke-width="0.22" textLength="8.6" lengthAdjust="spacingAndGlyphs" >10</text>
<text x="31.7" y="594.8" font-size="4.2" text-anchor="start" font-weight="normal" fill="#2a2a2a" stroke="#2a2a2a" stroke-width="0.1" >4</text>
<line x1="37.6" y1="618.2" x2="41" y2="618.2" stroke="#0e0e0e" stroke-width="1.2" />
<text x="31.2" y="621.05" font-size="9.0" text-anchor="end" font-weight="normal" fill="#2a2a2a" stroke="#2a2a2a" stroke-width="0.22" textLength="8.6" lengthAdjust="spacingAndGlyphs" >10</text>
<text x="31.7" y="617.6" font-size="4.2" text-anchor="start" font-weight="normal" fill="#2a2a2a" stroke="#2a2a2a" stroke-width="0.1" >3</text>
<line x1="37.6" y1="641" x2="41" y2="641" stroke="#0e0e0e" stroke-width="1.2" />
<text x="31.2" y="643.85" font-size="9.0" text-anchor="end" font-weight="normal" fill="#2a2a2a" stroke="#2a2a2a" stroke-width="0.22" textLength="8.6" lengthAdjust="spacingAndGlyphs" >10</text>
<text x="31.7" y="640.4" font-size="4.2" text-anchor="start" font-weight="normal" fill="#2a2a2a" stroke="#2a2a2a" stroke-width="0.1" >2</text>
<line x1="63.5" y1="641" x2="63.5" y2="644.2" stroke="#0e0e0e" stroke-width="1.2" />
<line x1="97.2" y1="641" x2="97.2" y2="644.2" stroke="#0e0e0e" stroke-width="1.2" />
<line x1="131" y1="641" x2="131" y2="644.2" stroke="#0e0e0e" stroke-width="1.2" />
<text x="63.5" y="655.4" font-size="8.3" text-anchor="middle" font-weight="normal" fill="#2a2a2a" stroke="#2a2a2a" stroke-width="0.22" textLength="26.2" lengthAdjust="spacingAndGlyphs" >MM V2</text>
<text x="97.2" y="655.4" font-size="8.3" text-anchor="middle" font-weight="normal" fill="#2a2a2a" stroke="#2a2a2a" stroke-width="0.22" textLength="27.6" lengthAdjust="spacingAndGlyphs" >WM V2</text>
<text x="131" y="655.4" font-size="8.3" text-anchor="middle" font-weight="normal" fill="#2a2a2a" stroke="#2a2a2a" stroke-width="0.22" textLength="25.2" lengthAdjust="spacingAndGlyphs" >NC V2</text>
<text transform="translate(14.7,582.8) rotate(-90)" font-size="9.3" text-anchor="middle" font-weight="bold" fill="#2a2a2a" stroke="#2a2a2a" stroke-width="0.1" textLength="43.5" lengthAdjust="spacingAndGlyphs">WT S IgA MFI</text>
<text x="7.15" y="517.15" font-size="11.7" text-anchor="start" font-weight="bold" fill="#111" stroke="#111" stroke-width="0.55" >D</text>
<line x1="63.2" y1="526" x2="131.3" y2="526" stroke="#3a3a3a" stroke-width="1.25" />
<text x="97.25" y="522.6" font-size="7.0" text-anchor="middle" font-weight="normal" fill="#3a3a3a" stroke="#3a3a3a" stroke-width="0.22" textLength="21.6" lengthAdjust="spacingAndGlyphs" >0.7672</text>
<line x1="63.2" y1="542.6" x2="95.3" y2="542.6" stroke="#3a3a3a" stroke-width="1.25" />
<text x="79.55" y="539.2" font-size="7.0" text-anchor="middle" font-weight="normal" fill="#3a3a3a" stroke="#3a3a3a" stroke-width="0.22" textLength="26" lengthAdjust="spacingAndGlyphs" >&gt;0.9999</text>
<line x1="99.1" y1="542.6" x2="131.3" y2="542.6" stroke="#3a3a3a" stroke-width="1.25" />
<text x="114.9" y="539.2" font-size="7.0" text-anchor="middle" font-weight="normal" fill="#3a3a3a" stroke="#3a3a3a" stroke-width="0.22" textLength="26" lengthAdjust="spacingAndGlyphs" >&gt;0.9999</text>
<rect x="53" y="588.8" width="21" height="16.8" fill="#a98bb6" stroke="#a98bb6" stroke-width="0.6"/>
<line x1="63.5" y1="554.6" x2="63.5" y2="588.8" stroke="#24102a" stroke-width="1.2" />
<line x1="63.5" y1="605.6" x2="63.5" y2="607.5" stroke="#24102a" stroke-width="1.2" />
<line x1="57.5" y1="554.6" x2="69.5" y2="554.6" stroke="#24102a" stroke-width="1.2" />
<line x1="57.5" y1="607.5" x2="69.5" y2="607.5" stroke="#24102a" stroke-width="1.2" />
<line x1="53" y1="596.5" x2="74" y2="596.5" stroke="#24102a" stroke-width="1.3" />
<circle cx="63.5" cy="554.6" r="1.9" fill="#4a1c4d" stroke="#2a0f2e" stroke-width="0.8"/>
<circle cx="63.5" cy="564.6" r="1.9" fill="#4a1c4d" stroke="#2a0f2e" stroke-width="0.8"/>
<circle cx="63.5" cy="580.8" r="1.9" fill="#4a1c4d" stroke="#2a0f2e" stroke-width="0.8"/>
<circle cx="63.5" cy="586" r="1.9" fill="#4a1c4d" stroke="#2a0f2e" stroke-width="0.8"/>
<circle cx="63.5" cy="588.5" r="1.9" fill="#4a1c4d" stroke="#2a0f2e" stroke-width="0.8"/>
<circle cx="63.5" cy="591" r="1.9" fill="#4a1c4d" stroke="#2a0f2e" stroke-width="0.8"/>
<circle cx="63.5" cy="593.5" r="1.9" fill="#4a1c4d" stroke="#2a0f2e" stroke-width="0.8"/>
<circle cx="63.5" cy="596.5" r="1.9" fill="#4a1c4d" stroke="#2a0f2e" stroke-width="0.8"/>
<circle cx="63.5" cy="599.5" r="1.9" fill="#4a1c4d" stroke="#2a0f2e" stroke-width="0.8"/>
<circle cx="63.5" cy="602.5" r="1.9" fill="#4a1c4d" stroke="#2a0f2e" stroke-width="0.8"/>
<circle cx="63.5" cy="605" r="1.9" fill="#4a1c4d" stroke="#2a0f2e" stroke-width="0.8"/>
<circle cx="63.5" cy="607.5" r="1.9" fill="#4a1c4d" stroke="#2a0f2e" stroke-width="0.8"/>
<rect x="86.7" y="589.2" width="21" height="16.4" fill="#9099c1" stroke="#9099c1" stroke-width="0.6"/>
<line x1="97.2" y1="567.7" x2="97.2" y2="589.2" stroke="#14284a" stroke-width="1.2" />
<line x1="97.2" y1="605.6" x2="97.2" y2="608" stroke="#14284a" stroke-width="1.2" />
<line x1="91.2" y1="567.7" x2="103.2" y2="567.7" stroke="#14284a" stroke-width="1.2" />
<line x1="91.2" y1="608" x2="103.2" y2="608" stroke="#14284a" stroke-width="1.2" />
<line x1="86.7" y1="599.2" x2="107.7" y2="599.2" stroke="#14284a" stroke-width="1.3" />
<circle cx="97.2" cy="567.7" r="1.9" fill="#1f3a62" stroke="#14284a" stroke-width="0.8"/>
<circle cx="97.2" cy="572.7" r="1.9" fill="#1f3a62" stroke="#14284a" stroke-width="0.8"/>
<circle cx="97.2" cy="581.3" r="1.9" fill="#1f3a62" stroke="#14284a" stroke-width="0.8"/>
<circle cx="97.2" cy="589" r="1.9" fill="#1f3a62" stroke="#14284a" stroke-width="0.8"/>
<circle cx="97.2" cy="591.5" r="1.9" fill="#1f3a62" stroke="#14284a" stroke-width="0.8"/>
<circle cx="97.2" cy="594" r="1.9" fill="#1f3a62" stroke="#14284a" stroke-width="0.8"/>
<circle cx="97.2" cy="597" r="1.9" fill="#1f3a62" stroke="#14284a" stroke-width="0.8"/>
<circle cx="97.2" cy="600" r="1.9" fill="#1f3a62" stroke="#14284a" stroke-width="0.8"/>
<circle cx="97.2" cy="603" r="1.9" fill="#1f3a62" stroke="#14284a" stroke-width="0.8"/>
<circle cx="97.2" cy="606" r="1.9" fill="#1f3a62" stroke="#14284a" stroke-width="0.8"/>
<circle cx="97.2" cy="608" r="1.9" fill="#1f3a62" stroke="#14284a" stroke-width="0.8"/>
<rect x="120.5" y="581" width="21" height="9.8" fill="#afd4f0" stroke="#afd4f0" stroke-width="0.6"/>
<line x1="131" y1="570" x2="131" y2="581" stroke="#18242c" stroke-width="1.2" />
<line x1="131" y1="590.8" x2="131" y2="595.4" stroke="#18242c" stroke-width="1.2" />
<line x1="125" y1="570" x2="137" y2="570" stroke="#18242c" stroke-width="1.2" />
<line x1="125" y1="595.4" x2="137" y2="595.4" stroke="#18242c" stroke-width="1.2" />
<line x1="120.5" y1="584" x2="141.5" y2="584" stroke="#18242c" stroke-width="1.3" />
<circle cx="131" cy="570" r="1.9" fill="#4f9cc4" stroke="#163650" stroke-width="0.8"/>
<circle cx="131" cy="574" r="1.9" fill="#4f9cc4" stroke="#163650" stroke-width="0.8"/>
<circle cx="131" cy="578" r="1.9" fill="#4f9cc4" stroke="#163650" stroke-width="0.8"/>
<circle cx="131" cy="581.5" r="1.9" fill="#4f9cc4" stroke="#163650" stroke-width="0.8"/>
<circle cx="131" cy="584.5" r="1.9" fill="#4f9cc4" stroke="#163650" stroke-width="0.8"/>
<circle cx="131" cy="587.5" r="1.9" fill="#4f9cc4" stroke="#163650" stroke-width="0.8"/>
<circle cx="131" cy="591" r="1.9" fill="#4f9cc4" stroke="#163650" stroke-width="0.8"/>
<circle cx="131" cy="595.4" r="1.9" fill="#4f9cc4" stroke="#163650" stroke-width="0.8"/>
<line x1="214.6" y1="26" x2="218" y2="26" stroke="#0e0e0e" stroke-width="1.2" />
<text x="207.5" y="28.85" font-size="9.0" text-anchor="end" font-weight="normal" fill="#2a2a2a" stroke="#2a2a2a" stroke-width="0.22" textLength="8.6" lengthAdjust="spacingAndGlyphs" >10</text>
<text x="208" y="25.4" font-size="4.2" text-anchor="start" font-weight="normal" fill="#2a2a2a" stroke="#2a2a2a" stroke-width="0.1" >7</text>
<line x1="214.6" y1="48.68" x2="218" y2="48.68" stroke="#0e0e0e" stroke-width="1.2" />
<text x="207.5" y="51.53" font-size="9.0" text-anchor="end" font-weight="normal" fill="#2a2a2a" stroke="#2a2a2a" stroke-width="0.22" textLength="8.6" lengthAdjust="spacingAndGlyphs" >10</text>
<text x="208" y="48.08" font-size="4.2" text-anchor="start" font-weight="normal" fill="#2a2a2a" stroke="#2a2a2a" stroke-width="0.1" >6</text>
<line x1="214.6" y1="71.36" x2="218" y2="71.36" stroke="#0e0e0e" stroke-width="1.2" />
<text x="207.5" y="74.21" font-size="9.0" text-anchor="end" font-weight="normal" fill="#2a2a2a" stroke="#2a2a2a" stroke-width="0.22" textLength="8.6" lengthAdjust="spacingAndGlyphs" >10</text>
<text x="208" y="70.76" font-size="4.2" text-anchor="start" font-weight="normal" fill="#2a2a2a" stroke="#2a2a2a" stroke-width="0.1" >5</text>
<line x1="214.6" y1="94.04" x2="218" y2="94.04" stroke="#0e0e0e" stroke-width="1.2" />
<text x="207.5" y="96.89" font-size="9.0" text-anchor="end" font-weight="normal" fill="#2a2a2a" stroke="#2a2a2a" stroke-width="0.22" textLength="8.6" lengthAdjust="spacingAndGlyphs" >10</text>
<text x="208" y="93.44" font-size="4.2" text-anchor="start" font-weight="normal" fill="#2a2a2a" stroke="#2a2a2a" stroke-width="0.1" >4</text>
<line x1="214.6" y1="116.72" x2="218" y2="116.72" stroke="#0e0e0e" stroke-width="1.2" />
<text x="207.5" y="119.57" font-size="9.0" text-anchor="end" font-weight="normal" fill="#2a2a2a" stroke="#2a2a2a" stroke-width="0.22" textLength="8.6" lengthAdjust="spacingAndGlyphs" >10</text>
<text x="208" y="116.12" font-size="4.2" text-anchor="start" font-weight="normal" fill="#2a2a2a" stroke="#2a2a2a" stroke-width="0.1" >3</text>
<line x1="214.6" y1="139.4" x2="218" y2="139.4" stroke="#0e0e0e" stroke-width="1.2" />
<text x="207.5" y="142.25" font-size="9.0" text-anchor="end" font-weight="normal" fill="#2a2a2a" stroke="#2a2a2a" stroke-width="0.22" textLength="8.6" lengthAdjust="spacingAndGlyphs" >10</text>
<text x="208" y="138.8" font-size="4.2" text-anchor="start" font-weight="normal" fill="#2a2a2a" stroke="#2a2a2a" stroke-width="0.1" >2</text>
<line x1="240.6" y1="139.4" x2="240.6" y2="142.6" stroke="#0e0e0e" stroke-width="1.2" />
<line x1="274.4" y1="139.4" x2="274.4" y2="142.6" stroke="#0e0e0e" stroke-width="1.2" />
<line x1="308.2" y1="139.4" x2="308.2" y2="142.6" stroke="#0e0e0e" stroke-width="1.2" />
<text x="240.6" y="153.8" font-size="8.3" text-anchor="middle" font-weight="normal" fill="#2a2a2a" stroke="#2a2a2a" stroke-width="0.22" textLength="26.2" lengthAdjust="spacingAndGlyphs" >MM V2</text>
<text x="274.4" y="153.8" font-size="8.3" text-anchor="middle" font-weight="normal" fill="#2a2a2a" stroke="#2a2a2a" stroke-width="0.22" textLength="27.6" lengthAdjust="spacingAndGlyphs" >WM V2</text>
<text x="308.2" y="153.8" font-size="8.3" text-anchor="middle" font-weight="normal" fill="#2a2a2a" stroke="#2a2a2a" stroke-width="0.22" textLength="25.2" lengthAdjust="spacingAndGlyphs" >NC V2</text>
<text transform="translate(192.1,80.9) rotate(-90)" font-size="9.3" text-anchor="middle" font-weight="bold" fill="#2a2a2a" stroke="#2a2a2a" stroke-width="0.1" textLength="57" lengthAdjust="spacingAndGlyphs">WT S Fc<tspan font-size="7.6" dy="1.3">γ</tspan><tspan dy="-1.3">R2A MFI</tspan></text>
<text x="185.55" y="15.55" font-size="11.7" text-anchor="start" font-weight="bold" fill="#111" stroke="#111" stroke-width="0.55" >E</text>
<line x1="240.3" y1="28.9" x2="308.5" y2="28.9" stroke="#3a3a3a" stroke-width="1.25" />
<text x="274.4" y="25.5" font-size="7.0" text-anchor="middle" font-weight="normal" fill="#3a3a3a" stroke="#3a3a3a" stroke-width="0.22" textLength="21.6" lengthAdjust="spacingAndGlyphs" >0.2165</text>
<line x1="240.3" y1="46" x2="272.5" y2="46" stroke="#3a3a3a" stroke-width="1.25" />
<text x="256.7" y="42.6" font-size="7.0" text-anchor="middle" font-weight="normal" fill="#3a3a3a" stroke="#3a3a3a" stroke-width="0.22" textLength="26" lengthAdjust="spacingAndGlyphs" >&gt;0.9999</text>
<line x1="276.3" y1="46" x2="308.5" y2="46" stroke="#3a3a3a" stroke-width="1.25" />
<text x="292.1" y="42.6" font-size="7.0" text-anchor="middle" font-weight="normal" fill="#3a3a3a" stroke="#3a3a3a" stroke-width="0.22" textLength="21.6" lengthAdjust="spacingAndGlyphs" >0.0539</text>
<rect x="230.1" y="99.8" width="21" height="4.8" fill="#a98bb6" stroke="#a98bb6" stroke-width="0.6"/>
<line x1="240.6" y1="56.5" x2="240.6" y2="99.8" stroke="#24102a" stroke-width="1.2" />
<line x1="240.6" y1="104.6" x2="240.6" y2="106.5" stroke="#24102a" stroke-width="1.2" />
<line x1="234.6" y1="56.5" x2="246.6" y2="56.5" stroke="#24102a" stroke-width="1.2" />
<line x1="234.6" y1="106.5" x2="246.6" y2="106.5" stroke="#24102a" stroke-width="1.2" />
<line x1="230.1" y1="102.5" x2="251.1" y2="102.5" stroke="#24102a" stroke-width="1.3" />
<circle cx="240.6" cy="56.5" r="1.9" fill="#4a1c4d" stroke="#2a0f2e" stroke-width="0.8"/>
<circle cx="240.6" cy="68" r="1.9" fill="#4a1c4d" stroke="#2a0f2e" stroke-width="0.8"/>
<circle cx="240.6" cy="87" r="1.9" fill="#4a1c4d" stroke="#2a0f2e" stroke-width="0.8"/>
<circle cx="240.6" cy="98.5" r="1.9" fill="#4a1c4d" stroke="#2a0f2e" stroke-width="0.8"/>
<circle cx="240.6" cy="100.5" r="1.9" fill="#4a1c4d" stroke="#2a0f2e" stroke-width="0.8"/>
<circle cx="240.6" cy="102.5" r="1.9" fill="#4a1c4d" stroke="#2a0f2e" stroke-width="0.8"/>
<circle cx="240.6" cy="104.5" r="1.9" fill="#4a1c4d" stroke="#2a0f2e" stroke-width="0.8"/>
<circle cx="240.6" cy="106.5" r="1.9" fill="#4a1c4d" stroke="#2a0f2e" stroke-width="0.8"/>
<rect x="263.9" y="100" width="21" height="5" fill="#9099c1" stroke="#9099c1" stroke-width="0.6"/>
<line x1="274.4" y1="68.5" x2="274.4" y2="100" stroke="#14284a" stroke-width="1.2" />
<line x1="274.4" y1="105" x2="274.4" y2="106.5" stroke="#14284a" stroke-width="1.2" />
<line x1="268.4" y1="68.5" x2="280.4" y2="68.5" stroke="#14284a" stroke-width="1.2" />
<line x1="268.4" y1="106.5" x2="280.4" y2="106.5" stroke="#14284a" stroke-width="1.2" />
<line x1="263.9" y1="102.5" x2="284.9" y2="102.5" stroke="#14284a" stroke-width="1.3" />
<circle cx="274.4" cy="68.5" r="1.9" fill="#1f3a62" stroke="#14284a" stroke-width="0.8"/>
<circle cx="274.4" cy="73" r="1.9" fill="#1f3a62" stroke="#14284a" stroke-width="0.8"/>
<circle cx="274.4" cy="97.7" r="1.9" fill="#1f3a62" stroke="#14284a" stroke-width="0.8"/>
<circle cx="274.4" cy="101" r="1.9" fill="#1f3a62" stroke="#14284a" stroke-width="0.8"/>
<circle cx="274.4" cy="103" r="1.9" fill="#1f3a62" stroke="#14284a" stroke-width="0.8"/>
<circle cx="274.4" cy="105" r="1.9" fill="#1f3a62" stroke="#14284a" stroke-width="0.8"/>
<circle cx="274.4" cy="106.5" r="1.9" fill="#1f3a62" stroke="#14284a" stroke-width="0.8"/>
<rect x="297.7" y="92" width="21" height="5" fill="#afd4f0" stroke="#afd4f0" stroke-width="0.6"/>
<line x1="308.2" y1="75.2" x2="308.2" y2="92" stroke="#18242c" stroke-width="1.2" />
<line x1="308.2" y1="97" x2="308.2" y2="99.4" stroke="#18242c" stroke-width="1.2" />
<line x1="302.2" y1="75.2" x2="314.2" y2="75.2" stroke="#18242c" stroke-width="1.2" />
<line x1="302.2" y1="99.4" x2="314.2" y2="99.4" stroke="#18242c" stroke-width="1.2" />
<line x1="297.7" y1="95.8" x2="318.7" y2="95.8" stroke="#18242c" stroke-width="1.3" />
<circle cx="308.2" cy="75.2" r="1.9" fill="#4f9cc4" stroke="#163650" stroke-width="0.8"/>
<circle cx="308.2" cy="80" r="1.9" fill="#4f9cc4" stroke="#163650" stroke-width="0.8"/>
<circle cx="308.2" cy="91" r="1.9" fill="#4f9cc4" stroke="#163650" stroke-width="0.8"/>
<circle cx="308.2" cy="93.5" r="1.9" fill="#4f9cc4" stroke="#163650" stroke-width="0.8"/>
<circle cx="308.2" cy="96" r="1.9" fill="#4f9cc4" stroke="#163650" stroke-width="0.8"/>
<circle cx="308.2" cy="99.4" r="1.9" fill="#4f9cc4" stroke="#163650" stroke-width="0.8"/>
<line x1="214.6" y1="193" x2="218" y2="193" stroke="#0e0e0e" stroke-width="1.2" />
<text x="207.5" y="195.85" font-size="9.0" text-anchor="end" font-weight="normal" fill="#2a2a2a" stroke="#2a2a2a" stroke-width="0.22" textLength="8.6" lengthAdjust="spacingAndGlyphs" >10</text>
<text x="208" y="192.4" font-size="4.2" text-anchor="start" font-weight="normal" fill="#2a2a2a" stroke="#2a2a2a" stroke-width="0.1" >8</text>
<line x1="214.6" y1="230.9" x2="218" y2="230.9" stroke="#0e0e0e" stroke-width="1.2" />
<text x="207.5" y="233.75" font-size="9.0" text-anchor="end" font-weight="normal" fill="#2a2a2a" stroke="#2a2a2a" stroke-width="0.22" textLength="8.6" lengthAdjust="spacingAndGlyphs" >10</text>
<text x="208" y="230.3" font-size="4.2" text-anchor="start" font-weight="normal" fill="#2a2a2a" stroke="#2a2a2a" stroke-width="0.1" >6</text>
<line x1="214.6" y1="268.8" x2="218" y2="268.8" stroke="#0e0e0e" stroke-width="1.2" />
<text x="207.5" y="271.65" font-size="9.0" text-anchor="end" font-weight="normal" fill="#2a2a2a" stroke="#2a2a2a" stroke-width="0.22" textLength="8.6" lengthAdjust="spacingAndGlyphs" >10</text>
<text x="208" y="268.2" font-size="4.2" text-anchor="start" font-weight="normal" fill="#2a2a2a" stroke="#2a2a2a" stroke-width="0.1" >4</text>
<line x1="214.6" y1="306.7" x2="218" y2="306.7" stroke="#0e0e0e" stroke-width="1.2" />
<text x="207.5" y="309.55" font-size="9.0" text-anchor="end" font-weight="normal" fill="#2a2a2a" stroke="#2a2a2a" stroke-width="0.22" textLength="8.6" lengthAdjust="spacingAndGlyphs" >10</text>
<text x="208" y="306.1" font-size="4.2" text-anchor="start" font-weight="normal" fill="#2a2a2a" stroke="#2a2a2a" stroke-width="0.1" >2</text>
<line x1="240.6" y1="306.7" x2="240.6" y2="309.9" stroke="#0e0e0e" stroke-width="1.2" />
<line x1="274.4" y1="306.7" x2="274.4" y2="309.9" stroke="#0e0e0e" stroke-width="1.2" />
<line x1="308.2" y1="306.7" x2="308.2" y2="309.9" stroke="#0e0e0e" stroke-width="1.2" />
<text x="240.6" y="321.1" font-size="8.3" text-anchor="middle" font-weight="normal" fill="#2a2a2a" stroke="#2a2a2a" stroke-width="0.22" textLength="26.2" lengthAdjust="spacingAndGlyphs" >MM V2</text>
<text x="274.4" y="321.1" font-size="8.3" text-anchor="middle" font-weight="normal" fill="#2a2a2a" stroke="#2a2a2a" stroke-width="0.22" textLength="27.6" lengthAdjust="spacingAndGlyphs" >WM V2</text>
<text x="308.2" y="321.1" font-size="8.3" text-anchor="middle" font-weight="normal" fill="#2a2a2a" stroke="#2a2a2a" stroke-width="0.22" textLength="25.2" lengthAdjust="spacingAndGlyphs" >NC V2</text>
<text transform="translate(192.1,248) rotate(-90)" font-size="9.3" text-anchor="middle" font-weight="bold" fill="#2a2a2a" stroke="#2a2a2a" stroke-width="0.1" textLength="58.3" lengthAdjust="spacingAndGlyphs">WT S Fc<tspan font-size="7.6" dy="1.3">γ</tspan><tspan dy="-1.3">R2B MFI</tspan></text>
<text x="185.15" y="182.85" font-size="11.7" text-anchor="start" font-weight="bold" fill="#111" stroke="#111" stroke-width="0.55" >F</text>
<line x1="240.3" y1="191.3" x2="308.5" y2="191.3" stroke="#3a3a3a" stroke-width="1.25" />
<text x="274.4" y="187.9" font-size="7.0" text-anchor="middle" font-weight="normal" fill="#3a3a3a" stroke="#3a3a3a" stroke-width="0.22" textLength="26" lengthAdjust="spacingAndGlyphs" >&gt;0.9999</text>
<line x1="240.3" y1="208.3" x2="272.5" y2="208.3" stroke="#3a3a3a" stroke-width="1.25" />
<text x="256.7" y="204.9" font-size="7.0" text-anchor="middle" font-weight="normal" fill="#3a3a3a" stroke="#3a3a3a" stroke-width="0.22" textLength="26" lengthAdjust="spacingAndGlyphs" >&gt;0.9999</text>
<line x1="276.3" y1="208.3" x2="308.5" y2="208.3" stroke="#3a3a3a" stroke-width="1.25" />
<text x="292.1" y="204.9" font-size="7.0" text-anchor="middle" font-weight="normal" fill="#3a3a3a" stroke="#3a3a3a" stroke-width="0.22" textLength="26" lengthAdjust="spacingAndGlyphs" >&gt;0.9999</text>
<rect x="230.1" y="230.4" width="21" height="47.1" fill="#a98bb6" stroke="#a98bb6" stroke-width="0.6"/>
<line x1="240.6" y1="223.7" x2="240.6" y2="230.4" stroke="#24102a" stroke-width="1.2" />
<line x1="240.6" y1="277.5" x2="240.6" y2="277.5" stroke="#24102a" stroke-width="1.2" />
<line x1="234.6" y1="223.7" x2="246.6" y2="223.7" stroke="#24102a" stroke-width="1.2" />
<line x1="234.6" y1="277.5" x2="246.6" y2="277.5" stroke="#24102a" stroke-width="1.2" />
<line x1="230.1" y1="265.6" x2="251.1" y2="265.6" stroke="#24102a" stroke-width="1.3" />
<circle cx="240.6" cy="223.7" r="1.9" fill="#4a1c4d" stroke="#2a0f2e" stroke-width="0.8"/>
<circle cx="240.6" cy="227.5" r="1.9" fill="#4a1c4d" stroke="#2a0f2e" stroke-width="0.8"/>
<circle cx="240.6" cy="231" r="1.9" fill="#4a1c4d" stroke="#2a0f2e" stroke-width="0.8"/>
<circle cx="240.6" cy="250" r="1.9" fill="#4a1c4d" stroke="#2a0f2e" stroke-width="0.8"/>
<circle cx="240.6" cy="265.6" r="1.9" fill="#4a1c4d" stroke="#2a0f2e" stroke-width="0.8"/>
<circle cx="240.6" cy="275" r="1.9" fill="#4a1c4d" stroke="#2a0f2e" stroke-width="0.8"/>
<circle cx="240.6" cy="277.5" r="1.9" fill="#4a1c4d" stroke="#2a0f2e" stroke-width="0.8"/>
<rect x="263.9" y="233.3" width="21" height="43.2" fill="#9099c1" stroke="#9099c1" stroke-width="0.6"/>
<line x1="274.4" y1="224.6" x2="274.4" y2="233.3" stroke="#14284a" stroke-width="1.2" />
<line x1="274.4" y1="276.5" x2="274.4" y2="277.9" stroke="#14284a" stroke-width="1.2" />
<line x1="268.4" y1="224.6" x2="280.4" y2="224.6" stroke="#14284a" stroke-width="1.2" />
<line x1="268.4" y1="277.9" x2="280.4" y2="277.9" stroke="#14284a" stroke-width="1.2" />
<line x1="263.9" y1="276.5" x2="284.9" y2="276.5" stroke="#14284a" stroke-width="1.3" />
<circle cx="274.4" cy="224.6" r="1.9" fill="#1f3a62" stroke="#14284a" stroke-width="0.8"/>
<circle cx="274.4" cy="236.5" r="1.9" fill="#1f3a62" stroke="#14284a" stroke-width="0.8"/>
<circle cx="274.4" cy="272.5" r="1.9" fill="#1f3a62" stroke="#14284a" stroke-width="0.8"/>
<circle cx="274.4" cy="275" r="1.9" fill="#1f3a62" stroke="#14284a" stroke-width="0.8"/>
<circle cx="274.4" cy="277.9" r="1.9" fill="#1f3a62" stroke="#14284a" stroke-width="0.8"/>
<rect x="297.7" y="229.4" width="21" height="45.2" fill="#afd4f0" stroke="#afd4f0" stroke-width="0.6"/>
<line x1="308.2" y1="224.6" x2="308.2" y2="229.4" stroke="#18242c" stroke-width="1.2" />
<line x1="308.2" y1="274.6" x2="308.2" y2="277.5" stroke="#18242c" stroke-width="1.2" />
<line x1="302.2" y1="224.6" x2="314.2" y2="224.6" stroke="#18242c" stroke-width="1.2" />
<line x1="302.2" y1="277.5" x2="314.2" y2="277.5" stroke="#18242c" stroke-width="1.2" />
<line x1="297.7" y1="231" x2="318.7" y2="231" stroke="#18242c" stroke-width="1.3" />
<circle cx="308.2" cy="224.6" r="1.9" fill="#4f9cc4" stroke="#163650" stroke-width="0.8"/>
<circle cx="308.2" cy="228" r="1.9" fill="#4f9cc4" stroke="#163650" stroke-width="0.8"/>
<circle cx="308.2" cy="231.5" r="1.9" fill="#4f9cc4" stroke="#163650" stroke-width="0.8"/>
<circle cx="308.2" cy="235" r="1.9" fill="#4f9cc4" stroke="#163650" stroke-width="0.8"/>
<circle cx="308.2" cy="274" r="1.9" fill="#4f9cc4" stroke="#163650" stroke-width="0.8"/>
<circle cx="308.2" cy="277.5" r="1.9" fill="#4f9cc4" stroke="#163650" stroke-width="0.8"/>
<line x1="214.6" y1="359.8" x2="218" y2="359.8" stroke="#0e0e0e" stroke-width="1.2" />
<text x="207.5" y="362.65" font-size="9.0" text-anchor="end" font-weight="normal" fill="#2a2a2a" stroke="#2a2a2a" stroke-width="0.22" textLength="8.6" lengthAdjust="spacingAndGlyphs" >10</text>
<text x="208" y="359.2" font-size="4.2" text-anchor="start" font-weight="normal" fill="#2a2a2a" stroke="#2a2a2a" stroke-width="0.1" >8</text>
<line x1="214.6" y1="397.9" x2="218" y2="397.9" stroke="#0e0e0e" stroke-width="1.2" />
<text x="207.5" y="400.75" font-size="9.0" text-anchor="end" font-weight="normal" fill="#2a2a2a" stroke="#2a2a2a" stroke-width="0.22" textLength="8.6" lengthAdjust="spacingAndGlyphs" >10</text>
<text x="208" y="397.3" font-size="4.2" text-anchor="start" font-weight="normal" fill="#2a2a2a" stroke="#2a2a2a" stroke-width="0.1" >6</text>
<line x1="214.6" y1="436" x2="218" y2="436" stroke="#0e0e0e" stroke-width="1.2" />
<text x="207.5" y="438.85" font-size="9.0" text-anchor="end" font-weight="normal" fill="#2a2a2a" stroke="#2a2a2a" stroke-width="0.22" textLength="8.6" lengthAdjust="spacingAndGlyphs" >10</text>
<text x="208" y="435.4" font-size="4.2" text-anchor="start" font-weight="normal" fill="#2a2a2a" stroke="#2a2a2a" stroke-width="0.1" >4</text>
<line x1="214.6" y1="474.1" x2="218" y2="474.1" stroke="#0e0e0e" stroke-width="1.2" />
<text x="207.5" y="476.95" font-size="9.0" text-anchor="end" font-weight="normal" fill="#2a2a2a" stroke="#2a2a2a" stroke-width="0.22" textLength="8.6" lengthAdjust="spacingAndGlyphs" >10</text>
<text x="208" y="473.5" font-size="4.2" text-anchor="start" font-weight="normal" fill="#2a2a2a" stroke="#2a2a2a" stroke-width="0.1" >2</text>
<line x1="240.6" y1="474.1" x2="240.6" y2="477.3" stroke="#0e0e0e" stroke-width="1.2" />
<line x1="274.4" y1="474.1" x2="274.4" y2="477.3" stroke="#0e0e0e" stroke-width="1.2" />
<line x1="308.2" y1="474.1" x2="308.2" y2="477.3" stroke="#0e0e0e" stroke-width="1.2" />
<text x="240.6" y="488.5" font-size="8.3" text-anchor="middle" font-weight="normal" fill="#2a2a2a" stroke="#2a2a2a" stroke-width="0.22" textLength="26.2" lengthAdjust="spacingAndGlyphs" >MM V2</text>
<text x="274.4" y="488.5" font-size="8.3" text-anchor="middle" font-weight="normal" fill="#2a2a2a" stroke="#2a2a2a" stroke-width="0.22" textLength="27.6" lengthAdjust="spacingAndGlyphs" >WM V2</text>
<text x="308.2" y="488.5" font-size="8.3" text-anchor="middle" font-weight="normal" fill="#2a2a2a" stroke="#2a2a2a" stroke-width="0.22" textLength="25.2" lengthAdjust="spacingAndGlyphs" >NC V2</text>
<text transform="translate(192.1,415.5) rotate(-90)" font-size="9.3" text-anchor="middle" font-weight="bold" fill="#2a2a2a" stroke="#2a2a2a" stroke-width="0.1" textLength="57.8" lengthAdjust="spacingAndGlyphs">WT S Fc<tspan font-size="7.6" dy="1.3">γ</tspan><tspan dy="-1.3">R3A MFI</tspan></text>
<text x="183.75" y="350.15" font-size="11.7" text-anchor="start" font-weight="bold" fill="#111" stroke="#111" stroke-width="0.55" >G</text>
<line x1="240.3" y1="358.3" x2="308.5" y2="358.3" stroke="#3a3a3a" stroke-width="1.25" />
<text x="274.4" y="354.9" font-size="7.0" text-anchor="middle" font-weight="normal" fill="#3a3a3a" stroke="#3a3a3a" stroke-width="0.22" textLength="26" lengthAdjust="spacingAndGlyphs" >&gt;0.9999</text>
<line x1="240.3" y1="375.3" x2="272.5" y2="375.3" stroke="#3a3a3a" stroke-width="1.25" />
<text x="256.7" y="371.9" font-size="7.0" text-anchor="middle" font-weight="normal" fill="#3a3a3a" stroke="#3a3a3a" stroke-width="0.22" textLength="26" lengthAdjust="spacingAndGlyphs" >&gt;0.9999</text>
<line x1="276.3" y1="375.3" x2="308.5" y2="375.3" stroke="#3a3a3a" stroke-width="1.25" />
<text x="292.1" y="371.9" font-size="7.0" text-anchor="middle" font-weight="normal" fill="#3a3a3a" stroke="#3a3a3a" stroke-width="0.22" textLength="26" lengthAdjust="spacingAndGlyphs" >&gt;0.9999</text>
<rect x="230.1" y="397.5" width="21" height="46.2" fill="#a98bb6" stroke="#a98bb6" stroke-width="0.6"/>
<line x1="240.6" y1="393.7" x2="240.6" y2="397.5" stroke="#24102a" stroke-width="1.2" />
<line x1="240.6" y1="443.7" x2="240.6" y2="446.2" stroke="#24102a" stroke-width="1.2" />
<line x1="234.6" y1="393.7" x2="246.6" y2="393.7" stroke="#24102a" stroke-width="1.2" />
<line x1="234.6" y1="446.2" x2="246.6" y2="446.2" stroke="#24102a" stroke-width="1.2" />
<line x1="230.1" y1="402.7" x2="251.1" y2="402.7" stroke="#24102a" stroke-width="1.3" />
<circle cx="240.6" cy="393.7" r="1.9" fill="#4a1c4d" stroke="#2a0f2e" stroke-width="0.8"/>
<circle cx="240.6" cy="397" r="1.9" fill="#4a1c4d" stroke="#2a0f2e" stroke-width="0.8"/>
<circle cx="240.6" cy="400" r="1.9" fill="#4a1c4d" stroke="#2a0f2e" stroke-width="0.8"/>
<circle cx="240.6" cy="403" r="1.9" fill="#4a1c4d" stroke="#2a0f2e" stroke-width="0.8"/>
<circle cx="240.6" cy="409.6" r="1.9" fill="#4a1c4d" stroke="#2a0f2e" stroke-width="0.8"/>
<circle cx="240.6" cy="420.4" r="1.9" fill="#4a1c4d" stroke="#2a0f2e" stroke-width="0.8"/>
<circle cx="240.6" cy="436" r="1.9" fill="#4a1c4d" stroke="#2a0f2e" stroke-width="0.8"/>
<circle cx="240.6" cy="442" r="1.9" fill="#4a1c4d" stroke="#2a0f2e" stroke-width="0.8"/>
<circle cx="240.6" cy="446.2" r="1.9" fill="#4a1c4d" stroke="#2a0f2e" stroke-width="0.8"/>
<rect x="263.9" y="404.2" width="21" height="39.1" fill="#9099c1" stroke="#9099c1" stroke-width="0.6"/>
<line x1="274.4" y1="394" x2="274.4" y2="404.2" stroke="#14284a" stroke-width="1.2" />
<line x1="274.4" y1="443.3" x2="274.4" y2="445.6" stroke="#14284a" stroke-width="1.2" />
<line x1="268.4" y1="394" x2="280.4" y2="394" stroke="#14284a" stroke-width="1.2" />
<line x1="268.4" y1="445.6" x2="280.4" y2="445.6" stroke="#14284a" stroke-width="1.2" />
<line x1="263.9" y1="436.3" x2="284.9" y2="436.3" stroke="#14284a" stroke-width="1.3" />
<circle cx="274.4" cy="394" r="1.9" fill="#1f3a62" stroke="#14284a" stroke-width="0.8"/>
<circle cx="274.4" cy="409.6" r="1.9" fill="#1f3a62" stroke="#14284a" stroke-width="0.8"/>
<circle cx="274.4" cy="431" r="1.9" fill="#1f3a62" stroke="#14284a" stroke-width="0.8"/>
<circle cx="274.4" cy="434" r="1.9" fill="#1f3a62" stroke="#14284a" stroke-width="0.8"/>
<circle cx="274.4" cy="441" r="1.9" fill="#1f3a62" stroke="#14284a" stroke-width="0.8"/>
<circle cx="274.4" cy="443.5" r="1.9" fill="#1f3a62" stroke="#14284a" stroke-width="0.8"/>
<circle cx="274.4" cy="445.6" r="1.9" fill="#1f3a62" stroke="#14284a" stroke-width="0.8"/>
<rect x="297.7" y="397.5" width="21" height="3.8" fill="#afd4f0" stroke="#afd4f0" stroke-width="0.6"/>
<line x1="308.2" y1="395" x2="308.2" y2="397.5" stroke="#18242c" stroke-width="1.2" />
<line x1="308.2" y1="401.3" x2="308.2" y2="435.6" stroke="#18242c" stroke-width="1.2" />
<line x1="302.2" y1="395" x2="314.2" y2="395" stroke="#18242c" stroke-width="1.2" />
<line x1="302.2" y1="435.6" x2="314.2" y2="435.6" stroke="#18242c" stroke-width="1.2" />
<line x1="297.7" y1="400" x2="318.7" y2="400" stroke="#18242c" stroke-width="1.3" />
<circle cx="308.2" cy="395" r="1.9" fill="#4f9cc4" stroke="#163650" stroke-width="0.8"/>
<circle cx="308.2" cy="398" r="1.9" fill="#4f9cc4" stroke="#163650" stroke-width="0.8"/>
<circle cx="308.2" cy="400.5" r="1.9" fill="#4f9cc4" stroke="#163650" stroke-width="0.8"/>
<circle cx="308.2" cy="403" r="1.9" fill="#4f9cc4" stroke="#163650" stroke-width="0.8"/>
<circle cx="308.2" cy="405.5" r="1.9" fill="#4f9cc4" stroke="#163650" stroke-width="0.8"/>
<circle cx="308.2" cy="435.6" r="1.9" fill="#4f9cc4" stroke="#163650" stroke-width="0.8"/>
<line x1="214.6" y1="527" x2="218" y2="527" stroke="#0e0e0e" stroke-width="1.2" />
<text x="210.6" y="529.95" font-size="8.5" text-anchor="end" font-weight="normal" fill="#2a2a2a" stroke="#2a2a2a" stroke-width="0.22" textLength="25.6" lengthAdjust="spacingAndGlyphs" >40000</text>
<line x1="214.6" y1="555.5" x2="218" y2="555.5" stroke="#0e0e0e" stroke-width="1.2" />
<text x="210.6" y="558.45" font-size="8.5" text-anchor="end" font-weight="normal" fill="#2a2a2a" stroke="#2a2a2a" stroke-width="0.22" textLength="25.6" lengthAdjust="spacingAndGlyphs" >30000</text>
<line x1="214.6" y1="584" x2="218" y2="584" stroke="#0e0e0e" stroke-width="1.2" />
<text x="210.6" y="586.95" font-size="8.5" text-anchor="end" font-weight="normal" fill="#2a2a2a" stroke="#2a2a2a" stroke-width="0.22" textLength="25.6" lengthAdjust="spacingAndGlyphs" >20000</text>
<line x1="214.6" y1="612.5" x2="218" y2="612.5" stroke="#0e0e0e" stroke-width="1.2" />
<text x="210.6" y="615.45" font-size="8.5" text-anchor="end" font-weight="normal" fill="#2a2a2a" stroke="#2a2a2a" stroke-width="0.22" textLength="25.6" lengthAdjust="spacingAndGlyphs" >10000</text>
<line x1="214.6" y1="641" x2="218" y2="641" stroke="#0e0e0e" stroke-width="1.2" />
<text x="210.6" y="643.95" font-size="8.5" text-anchor="end" font-weight="normal" fill="#2a2a2a" stroke="#2a2a2a" stroke-width="0.22" textLength="5" lengthAdjust="spacingAndGlyphs" >0</text>
<line x1="240.6" y1="641" x2="240.6" y2="644.2" stroke="#0e0e0e" stroke-width="1.2" />
<line x1="274.4" y1="641" x2="274.4" y2="644.2" stroke="#0e0e0e" stroke-width="1.2" />
<line x1="308.2" y1="641" x2="308.2" y2="644.2" stroke="#0e0e0e" stroke-width="1.2" />
<text x="240.6" y="655.4" font-size="8.3" text-anchor="middle" font-weight="normal" fill="#2a2a2a" stroke="#2a2a2a" stroke-width="0.22" textLength="26.2" lengthAdjust="spacingAndGlyphs" >MM V2</text>
<text x="274.4" y="655.4" font-size="8.3" text-anchor="middle" font-weight="normal" fill="#2a2a2a" stroke="#2a2a2a" stroke-width="0.22" textLength="27.6" lengthAdjust="spacingAndGlyphs" >WM V2</text>
<text x="308.2" y="655.4" font-size="8.3" text-anchor="middle" font-weight="normal" fill="#2a2a2a" stroke="#2a2a2a" stroke-width="0.22" textLength="25.2" lengthAdjust="spacingAndGlyphs" >NC V2</text>
<text transform="translate(179.9,582.6) rotate(-90)" font-size="9.3" text-anchor="middle" font-weight="bold" fill="#2a2a2a" stroke="#2a2a2a" stroke-width="0.1" textLength="55.6" lengthAdjust="spacingAndGlyphs">ADCP phagoscore</text>
<text x="171.15" y="517.35" font-size="11.7" text-anchor="start" font-weight="bold" fill="#111" stroke="#111" stroke-width="0.55" >H</text>
<text x="275" y="519" font-size="8.4" text-anchor="middle" font-weight="normal" fill="#2a2a2a" stroke="#2a2a2a" stroke-width="0.22" textLength="20.6" lengthAdjust="spacingAndGlyphs" >WT S</text>
<line x1="240.3" y1="537.2" x2="308.5" y2="537.2" stroke="#3a3a3a" stroke-width="1.25" />
<circle cx="270.95" cy="532.6" r="1.05" fill="#2a2a2a"/>
<circle cx="274.4" cy="532.6" r="1.05" fill="#2a2a2a"/>
<circle cx="277.85" cy="532.6" r="1.05" fill="#2a2a2a"/>
<line x1="274.1" y1="552" x2="308.5" y2="552" stroke="#3a3a3a" stroke-width="1.25" />
<circle cx="286.12" cy="547.4" r="1.05" fill="#2a2a2a"/>
<circle cx="289.57" cy="547.4" r="1.05" fill="#2a2a2a"/>
<circle cx="293.02" cy="547.4" r="1.05" fill="#2a2a2a"/>
<circle cx="296.47" cy="547.4" r="1.05" fill="#2a2a2a"/>
<path d="M240.1,553.4 L241.1,553.4 C241.25,553.58 241.82,553.98 242,554.5 C242.18,555.02 242.27,555.75 242.2,556.5 C242.13,557.25 241.84,558.25 241.6,559 C241.36,559.75 240.89,558.25 240.75,561 C240.61,563.75 240.28,572.58 240.75,575.5 C241.22,578.42 242.89,577.55 243.6,578.5 C244.31,579.45 244.57,580.3 245,581.2 C245.43,582.1 245.82,582.88 246.2,583.9 C246.58,584.92 246.97,586.17 247.3,587.3 C247.63,588.43 247.92,589.58 248.2,590.7 C248.48,591.82 248.77,592.87 249,594 C249.23,595.13 249.35,595.78 249.6,597.5 C249.85,599.22 250.28,602.15 250.5,604.3 C250.72,606.45 250.88,608.15 250.9,610.4 C250.92,612.65 250.5,615.43 250.6,617.8 C250.7,620.17 251.25,622.57 251.5,624.6 C251.75,626.63 252.08,628.42 252.1,630 C252.12,631.58 252.1,633.07 251.6,634.1 C251.1,635.13 249.52,635.85 249.1,636.2 L232.1,636.2 C231.68,635.85 230.1,635.13 229.6,634.1 C229.1,633.07 229.08,631.58 229.1,630 C229.12,628.42 229.45,626.63 229.7,624.6 C229.95,622.57 230.5,620.17 230.6,617.8 C230.7,615.43 230.28,612.65 230.3,610.4 C230.32,608.15 230.48,606.45 230.7,604.3 C230.92,602.15 231.35,599.22 231.6,597.5 C231.85,595.78 231.97,595.13 232.2,594 C232.43,592.87 232.72,591.82 233,590.7 C233.28,589.58 233.57,588.43 233.9,587.3 C234.23,586.17 234.62,584.92 235,583.9 C235.38,582.88 235.77,582.1 236.2,581.2 C236.63,580.3 236.89,579.45 237.6,578.5 C238.31,577.55 239.97,578.42 240.45,575.5 C240.92,572.58 240.59,563.75 240.45,561 C240.31,558.25 239.84,559.75 239.6,559 C239.36,558.25 239.07,557.25 239,556.5 C238.93,555.75 239.02,555.02 239.2,554.5 C239.38,553.98 239.95,553.58 240.1,553.4 Z" fill="#d0bade" stroke="#4d2355" stroke-width="0.9" stroke-linejoin="round"/>
<circle cx="240.6" cy="585.5" r="1.25" fill="none" stroke="#5a2a60" stroke-width="0.7"/>
<circle cx="245.6" cy="588" r="1.25" fill="none" stroke="#5a2a60" stroke-width="0.7"/>
<circle cx="240.6" cy="590" r="1.25" fill="none" stroke="#5a2a60" stroke-width="0.7"/>
<circle cx="234.6" cy="596" r="1.25" fill="none" stroke="#5a2a60" stroke-width="0.7"/>
<circle cx="240.6" cy="596" r="1.25" fill="none" stroke="#5a2a60" stroke-width="0.7"/>
<circle cx="245.6" cy="596" r="1.25" fill="none" stroke="#5a2a60" stroke-width="0.7"/>
<circle cx="240.6" cy="600" r="1.25" fill="none" stroke="#5a2a60" stroke-width="0.7"/>
<circle cx="240.6" cy="606" r="1.25" fill="none" stroke="#5a2a60" stroke-width="0.7"/>
<circle cx="240.6" cy="611" r="1.25" fill="none" stroke="#5a2a60" stroke-width="0.7"/>
<circle cx="235.6" cy="611" r="1.25" fill="none" stroke="#5a2a60" stroke-width="0.7"/>
<circle cx="245.6" cy="611" r="1.25" fill="none" stroke="#5a2a60" stroke-width="0.7"/>
<circle cx="240.6" cy="615" r="1.25" fill="none" stroke="#5a2a60" stroke-width="0.7"/>
<circle cx="245.6" cy="616" r="1.25" fill="none" stroke="#5a2a60" stroke-width="0.7"/>
<circle cx="240.6" cy="619" r="1.25" fill="none" stroke="#5a2a60" stroke-width="0.7"/>
<circle cx="245.6" cy="620" r="1.25" fill="none" stroke="#5a2a60" stroke-width="0.7"/>
<circle cx="240.6" cy="622" r="1.25" fill="none" stroke="#5a2a60" stroke-width="0.7"/>
<circle cx="235.6" cy="632" r="1.25" fill="none" stroke="#5a2a60" stroke-width="0.7"/>
<circle cx="240.6" cy="632" r="1.25" fill="none" stroke="#5a2a60" stroke-width="0.7"/>
<circle cx="245.6" cy="632" r="1.25" fill="none" stroke="#5a2a60" stroke-width="0.7"/>
<circle cx="232.6" cy="632" r="1.25" fill="none" stroke="#5a2a60" stroke-width="0.7"/>
<circle cx="248.6" cy="632" r="1.25" fill="none" stroke="#5a2a60" stroke-width="0.7"/>
<line x1="230.3" y1="610.4" x2="250.9" y2="610.4" stroke="#2a0e2e" stroke-width="1.2" />
<path d="M273.8,584.5 L275,584.5 C275.17,584.8 275.85,585.25 276,586.3 C276.15,587.35 275.6,589.43 275.9,590.8 C276.2,592.17 277.38,593.13 277.8,594.5 C278.22,595.87 278.55,597.5 278.4,599 C278.25,600.5 277.53,602 276.9,603.5 C276.27,605 274.98,606.18 274.6,608 C274.22,609.82 274.37,612.73 274.6,614.4 C274.83,616.07 275.62,617.07 276,618 C276.38,618.93 276.45,619.25 276.9,620 C277.35,620.75 278.12,621.67 278.7,622.5 C279.28,623.33 279.75,624.25 280.4,625 C281.05,625.75 281.87,626.28 282.6,627 C283.33,627.72 284.33,628.55 284.8,629.3 C285.27,630.05 285.37,630.8 285.4,631.5 C285.43,632.2 285.33,632.83 285,633.5 C284.67,634.17 284.08,634.92 283.4,635.5 C282.72,636.08 281.32,636.75 280.9,637 L267.9,637 C267.48,636.75 266.08,636.08 265.4,635.5 C264.72,634.92 264.13,634.17 263.8,633.5 C263.47,632.83 263.37,632.2 263.4,631.5 C263.43,630.8 263.53,630.05 264,629.3 C264.47,628.55 265.47,627.72 266.2,627 C266.93,626.28 267.75,625.75 268.4,625 C269.05,624.25 269.52,623.33 270.1,622.5 C270.68,621.67 271.45,620.75 271.9,620 C272.35,619.25 272.42,618.93 272.8,618 C273.18,617.07 273.97,616.07 274.2,614.4 C274.43,612.73 274.58,609.82 274.2,608 C273.82,606.18 272.53,605 271.9,603.5 C271.27,602 270.55,600.5 270.4,599 C270.25,597.5 270.58,595.87 271,594.5 C271.42,593.13 272.6,592.17 272.9,590.8 C273.2,589.43 272.65,587.35 272.8,586.3 C272.95,585.25 273.63,584.8 273.8,584.5 Z" fill="#f9d3e6" stroke="#e0187e" stroke-width="0.9" stroke-linejoin="round"/>
<circle cx="274.4" cy="592" r="1.25" fill="none" stroke="#e0187e" stroke-width="0.7"/>
<circle cx="274.4" cy="598" r="1.25" fill="none" stroke="#e0187e" stroke-width="0.7"/>
<circle cx="269.4" cy="599" r="1.25" fill="none" stroke="#e0187e" stroke-width="0.7"/>
<circle cx="279.4" cy="599" r="1.25" fill="none" stroke="#e0187e" stroke-width="0.7"/>
<circle cx="274.4" cy="622" r="1.25" fill="none" stroke="#e0187e" stroke-width="0.7"/>
<circle cx="270.4" cy="626.5" r="1.25" fill="none" stroke="#e0187e" stroke-width="0.7"/>
<circle cx="278.4" cy="626.5" r="1.25" fill="none" stroke="#e0187e" stroke-width="0.7"/>
<circle cx="266.4" cy="631.5" r="1.25" fill="none" stroke="#e0187e" stroke-width="0.7"/>
<circle cx="270.4" cy="632" r="1.25" fill="none" stroke="#e0187e" stroke-width="0.7"/>
<circle cx="274.4" cy="631.5" r="1.25" fill="none" stroke="#e0187e" stroke-width="0.7"/>
<circle cx="278.4" cy="632" r="1.25" fill="none" stroke="#e0187e" stroke-width="0.7"/>
<circle cx="282.4" cy="631.5" r="1.25" fill="none" stroke="#e0187e" stroke-width="0.7"/>
<circle cx="268.4" cy="634.5" r="1.25" fill="none" stroke="#e0187e" stroke-width="0.7"/>
<circle cx="274.4" cy="634.5" r="1.25" fill="none" stroke="#e0187e" stroke-width="0.7"/>
<circle cx="280.4" cy="634.5" r="1.25" fill="none" stroke="#e0187e" stroke-width="0.7"/>
<line x1="264" y1="629.3" x2="284.8" y2="629.3" stroke="#5a0a30" stroke-width="1.2" />
<path d="M307.6,561.2 L308.8,561.2 C309.13,561.38 309.92,561.43 310.8,562.3 C311.68,563.17 312.97,564.9 314.1,566.4 C315.23,567.9 316.7,569.68 317.6,571.3 C318.5,572.92 319.22,575.07 319.5,576.1 C319.78,577.13 320.08,576.68 319.3,577.5 C318.52,578.32 316.42,579.6 314.8,581 C313.18,582.4 309.88,584.28 309.6,585.9 C309.32,587.52 312.38,589.2 313.1,590.7 C313.82,592.2 314.22,593.73 313.9,594.9 C313.58,596.07 311.9,597.12 311.2,597.7 C310.5,598.28 309.95,598.28 309.7,598.4 L306.7,598.4 C306.45,598.28 305.9,598.28 305.2,597.7 C304.5,597.12 302.82,596.07 302.5,594.9 C302.18,593.73 302.58,592.2 303.3,590.7 C304.02,589.2 307.08,587.52 306.8,585.9 C306.52,584.28 303.22,582.4 301.6,581 C299.98,579.6 297.88,578.32 297.1,577.5 C296.32,576.68 296.62,577.13 296.9,576.1 C297.18,575.07 297.9,572.92 298.8,571.3 C299.7,569.68 301.17,567.9 302.3,566.4 C303.43,564.9 304.72,563.17 305.6,562.3 C306.48,561.43 307.27,561.38 307.6,561.2 Z" fill="#d6edfb" stroke="#45ade6" stroke-width="0.9" stroke-linejoin="round"/>
<circle cx="308.2" cy="564.5" r="1.5" fill="#a6d6ef" stroke="#4a9cc8" stroke-width="0.7"/>
<circle cx="308.2" cy="568" r="1.5" fill="#a6d6ef" stroke="#4a9cc8" stroke-width="0.7"/>
<circle cx="304.2" cy="569.5" r="1.5" fill="#a6d6ef" stroke="#4a9cc8" stroke-width="0.7"/>
<circle cx="312.2" cy="569.5" r="1.5" fill="#a6d6ef" stroke="#4a9cc8" stroke-width="0.7"/>
<circle cx="308.2" cy="572" r="1.5" fill="#a6d6ef" stroke="#4a9cc8" stroke-width="0.7"/>
<circle cx="301.2" cy="574" r="1.5" fill="#a6d6ef" stroke="#4a9cc8" stroke-width="0.7"/>
<circle cx="308.2" cy="575" r="1.5" fill="#a6d6ef" stroke="#4a9cc8" stroke-width="0.7"/>
<circle cx="314.2" cy="574" r="1.5" fill="#a6d6ef" stroke="#4a9cc8" stroke-width="0.7"/>
<circle cx="308.2" cy="580" r="1.5" fill="#a6d6ef" stroke="#4a9cc8" stroke-width="0.7"/>
<circle cx="305.2" cy="592" r="1.5" fill="#a6d6ef" stroke="#4a9cc8" stroke-width="0.7"/>
<circle cx="311.2" cy="592" r="1.5" fill="#a6d6ef" stroke="#4a9cc8" stroke-width="0.7"/>
<circle cx="308.2" cy="595" r="1.5" fill="#a6d6ef" stroke="#4a9cc8" stroke-width="0.7"/>
<line x1="296.9" y1="576.1" x2="319.5" y2="576.1" stroke="#1a2838" stroke-width="1.2" />
<line x1="396.8" y1="26" x2="400.2" y2="26" stroke="#0e0e0e" stroke-width="1.2" />
<text x="392.8" y="28.95" font-size="8.5" text-anchor="end" font-weight="normal" fill="#2a2a2a" stroke="#2a2a2a" stroke-width="0.22" textLength="24.6" lengthAdjust="spacingAndGlyphs" >50000</text>
<line x1="396.8" y1="48.68" x2="400.2" y2="48.68" stroke="#0e0e0e" stroke-width="1.2" />
<text x="392.8" y="51.63" font-size="8.5" text-anchor="end" font-weight="normal" fill="#2a2a2a" stroke="#2a2a2a" stroke-width="0.22" textLength="24.6" lengthAdjust="spacingAndGlyphs" >40000</text>
<line x1="396.8" y1="71.36" x2="400.2" y2="71.36" stroke="#0e0e0e" stroke-width="1.2" />
<text x="392.8" y="74.31" font-size="8.5" text-anchor="end" font-weight="normal" fill="#2a2a2a" stroke="#2a2a2a" stroke-width="0.22" textLength="24.6" lengthAdjust="spacingAndGlyphs" >30000</text>
<line x1="396.8" y1="94.04" x2="400.2" y2="94.04" stroke="#0e0e0e" stroke-width="1.2" />
<text x="392.8" y="96.99" font-size="8.5" text-anchor="end" font-weight="normal" fill="#2a2a2a" stroke="#2a2a2a" stroke-width="0.22" textLength="24.6" lengthAdjust="spacingAndGlyphs" >20000</text>
<line x1="396.8" y1="116.72" x2="400.2" y2="116.72" stroke="#0e0e0e" stroke-width="1.2" />
<text x="392.8" y="119.67" font-size="8.5" text-anchor="end" font-weight="normal" fill="#2a2a2a" stroke="#2a2a2a" stroke-width="0.22" textLength="24.6" lengthAdjust="spacingAndGlyphs" >10000</text>
<line x1="396.8" y1="139.4" x2="400.2" y2="139.4" stroke="#0e0e0e" stroke-width="1.2" />
<text x="392.8" y="142.35" font-size="8.5" text-anchor="end" font-weight="normal" fill="#2a2a2a" stroke="#2a2a2a" stroke-width="0.22" textLength="5" lengthAdjust="spacingAndGlyphs" >0</text>
<line x1="422.8" y1="139.4" x2="422.8" y2="142.6" stroke="#0e0e0e" stroke-width="1.2" />
<line x1="456.6" y1="139.4" x2="456.6" y2="142.6" stroke="#0e0e0e" stroke-width="1.2" />
<line x1="490.5" y1="139.4" x2="490.5" y2="142.6" stroke="#0e0e0e" stroke-width="1.2" />
<text x="422.8" y="153.8" font-size="8.3" text-anchor="middle" font-weight="normal" fill="#2a2a2a" stroke="#2a2a2a" stroke-width="0.22" textLength="26.2" lengthAdjust="spacingAndGlyphs" >MM V2</text>
<text x="456.6" y="153.8" font-size="8.3" text-anchor="middle" font-weight="normal" fill="#2a2a2a" stroke="#2a2a2a" stroke-width="0.22" textLength="27.6" lengthAdjust="spacingAndGlyphs" >WM V2</text>
<text x="490.5" y="153.8" font-size="8.3" text-anchor="middle" font-weight="normal" fill="#2a2a2a" stroke="#2a2a2a" stroke-width="0.22" textLength="25.2" lengthAdjust="spacingAndGlyphs" >NC V2</text>
<text transform="translate(360.3,80.7) rotate(-90)" font-size="9.3" text-anchor="middle" font-weight="bold" fill="#2a2a2a" stroke="#2a2a2a" stroke-width="0.1" textLength="55" lengthAdjust="spacingAndGlyphs">ADNP phagoscore</text>
<text x="356.55" y="16.05" font-size="11.7" text-anchor="start" font-weight="bold" fill="#111" stroke="#111" stroke-width="0.55" >I</text>
<text x="456.4" y="17.4" font-size="8.4" text-anchor="middle" font-weight="normal" fill="#2a2a2a" stroke="#2a2a2a" stroke-width="0.22" textLength="20.6" lengthAdjust="spacingAndGlyphs" >WT S</text>
<line x1="422.5" y1="36" x2="490.8" y2="36" stroke="#3a3a3a" stroke-width="1.25" />
<circle cx="454.92" cy="31.4" r="1.05" fill="#2a2a2a"/>
<circle cx="458.37" cy="31.4" r="1.05" fill="#2a2a2a"/>
<line x1="456.3" y1="50.4" x2="490.8" y2="50.4" stroke="#3a3a3a" stroke-width="1.25" />
<circle cx="471.82" cy="45.8" r="1.05" fill="#2a2a2a"/>
<circle cx="475.27" cy="45.8" r="1.05" fill="#2a2a2a"/>
<path d="M421.4,61.2 L424.2,61.2 C424.2,61.62 424.42,63.15 424.2,63.7 C423.98,64.25 423.12,60.45 422.9,64.5 C422.68,68.55 422.7,83.75 422.9,88 C423.1,92.25 423.9,89 424.1,90 C424.3,91 424.3,93 424.1,94 C423.9,95 423.1,92.5 422.9,96 C422.7,99.5 422.67,111.5 422.9,115 C423.13,118.5 423.78,116.17 424.3,117 C424.82,117.83 425.47,119 426,120 C426.53,121 427.03,122 427.5,123 C427.97,124 428.38,125 428.8,126 C429.22,127 429.67,128.12 430,129 C430.33,129.88 430.28,130.77 430.8,131.3 C431.32,131.83 432.57,131.92 433.1,132.2 C433.63,132.48 433.8,132.28 434,133 C434.2,133.72 434.3,135.58 434.3,136.5 C434.3,137.42 434.05,138.17 434,138.5 L411.6,138.5 C411.55,138.17 411.3,137.42 411.3,136.5 C411.3,135.58 411.4,133.72 411.6,133 C411.8,132.28 411.97,132.48 412.5,132.2 C413.03,131.92 414.28,131.83 414.8,131.3 C415.32,130.77 415.27,129.88 415.6,129 C415.93,128.12 416.38,127 416.8,126 C417.22,125 417.63,124 418.1,123 C418.57,122 419.07,121 419.6,120 C420.13,119 420.78,117.83 421.3,117 C421.82,116.17 422.47,118.5 422.7,115 C422.93,111.5 422.9,99.5 422.7,96 C422.5,92.5 421.7,95 421.5,94 C421.3,93 421.3,91 421.5,90 C421.7,89 422.5,92.25 422.7,88 C422.9,83.75 422.92,68.55 422.7,64.5 C422.48,60.45 421.62,64.25 421.4,63.7 C421.18,63.15 421.4,61.62 421.4,61.2 Z" fill="#d0bade" stroke="#4d2355" stroke-width="0.9" stroke-linejoin="round"/>
<circle cx="422.8" cy="62.5" r="1.25" fill="none" stroke="#5a2a60" stroke-width="0.7"/>
<circle cx="422.8" cy="92" r="1.25" fill="none" stroke="#5a2a60" stroke-width="0.7"/>
<circle cx="419.8" cy="121" r="1.25" fill="none" stroke="#5a2a60" stroke-width="0.7"/>
<circle cx="425.8" cy="121" r="1.25" fill="none" stroke="#5a2a60" stroke-width="0.7"/>
<circle cx="422.8" cy="124" r="1.25" fill="none" stroke="#5a2a60" stroke-width="0.7"/>
<circle cx="418.8" cy="127" r="1.25" fill="none" stroke="#5a2a60" stroke-width="0.7"/>
<circle cx="426.8" cy="127" r="1.25" fill="none" stroke="#5a2a60" stroke-width="0.7"/>
<circle cx="422.8" cy="129" r="1.25" fill="none" stroke="#5a2a60" stroke-width="0.7"/>
<circle cx="416.8" cy="131" r="1.25" fill="none" stroke="#5a2a60" stroke-width="0.7"/>
<circle cx="428.8" cy="131" r="1.25" fill="none" stroke="#5a2a60" stroke-width="0.7"/>
<circle cx="413.8" cy="134" r="1.25" fill="none" stroke="#5a2a60" stroke-width="0.7"/>
<circle cx="418.8" cy="134" r="1.25" fill="none" stroke="#5a2a60" stroke-width="0.7"/>
<circle cx="422.8" cy="134" r="1.25" fill="none" stroke="#5a2a60" stroke-width="0.7"/>
<circle cx="426.8" cy="134" r="1.25" fill="none" stroke="#5a2a60" stroke-width="0.7"/>
<circle cx="431.8" cy="134" r="1.25" fill="none" stroke="#5a2a60" stroke-width="0.7"/>
<circle cx="413.8" cy="137" r="1.25" fill="none" stroke="#5a2a60" stroke-width="0.7"/>
<circle cx="417.8" cy="137" r="1.25" fill="none" stroke="#5a2a60" stroke-width="0.7"/>
<circle cx="422.8" cy="137" r="1.25" fill="none" stroke="#5a2a60" stroke-width="0.7"/>
<circle cx="427.8" cy="137" r="1.25" fill="none" stroke="#5a2a60" stroke-width="0.7"/>
<circle cx="431.8" cy="137" r="1.25" fill="none" stroke="#5a2a60" stroke-width="0.7"/>
<line x1="411.94" y1="132.7" x2="433.66" y2="132.7" stroke="#2a0e2e" stroke-width="1.2" />
<path d="M455.1,116.5 L458.1,116.5 C458.35,116.55 459.32,116.47 459.6,116.8 C459.88,117.13 460.05,117.88 459.8,118.5 C459.55,119.12 458.61,119.92 458.1,120.5 C457.59,121.08 456.98,120.17 456.75,122 C456.52,123.83 455.14,129.6 456.75,131.5 C458.36,133.4 464.54,132.8 466.4,133.4 C468.26,134 467.78,134.42 467.9,135.1 C468.02,135.78 467.48,136.97 467.1,137.5 C466.72,138.03 465.85,138.17 465.6,138.3 L447.6,138.3 C447.35,138.17 446.48,138.03 446.1,137.5 C445.72,136.97 445.18,135.78 445.3,135.1 C445.42,134.42 444.94,134 446.8,133.4 C448.66,132.8 454.84,133.4 456.45,131.5 C458.06,129.6 456.68,123.83 456.45,122 C456.23,120.17 455.61,121.08 455.1,120.5 C454.59,119.92 453.65,119.12 453.4,118.5 C453.15,117.88 453.32,117.13 453.6,116.8 C453.88,116.47 454.85,116.55 455.1,116.5 Z" fill="#f9d3e6" stroke="#e0187e" stroke-width="0.9" stroke-linejoin="round"/>
<circle cx="455.1" cy="118" r="1.25" fill="none" stroke="#e0187e" stroke-width="0.7"/>
<circle cx="458.1" cy="118" r="1.25" fill="none" stroke="#e0187e" stroke-width="0.7"/>
<circle cx="456.6" cy="126.5" r="1.25" fill="none" stroke="#e0187e" stroke-width="0.7"/>
<circle cx="450.6" cy="135" r="1.25" fill="none" stroke="#e0187e" stroke-width="0.7"/>
<circle cx="454.6" cy="135" r="1.25" fill="none" stroke="#e0187e" stroke-width="0.7"/>
<circle cx="458.6" cy="135" r="1.25" fill="none" stroke="#e0187e" stroke-width="0.7"/>
<circle cx="462.6" cy="135" r="1.25" fill="none" stroke="#e0187e" stroke-width="0.7"/>
<circle cx="448.6" cy="137" r="1.25" fill="none" stroke="#e0187e" stroke-width="0.7"/>
<circle cx="456.6" cy="137" r="1.25" fill="none" stroke="#e0187e" stroke-width="0.7"/>
<circle cx="464.6" cy="137" r="1.25" fill="none" stroke="#e0187e" stroke-width="0.7"/>
<circle cx="467.1" cy="133.4" r="1.25" fill="none" stroke="#e0187e" stroke-width="0.7"/>
<line x1="445.3" y1="135.1" x2="467.9" y2="135.1" stroke="#5a0a30" stroke-width="1.2" />
<path d="M489.9,60.4 L491.1,60.4 C491.32,60.62 492.18,60.95 492.4,61.7 C492.62,62.45 492.67,63.95 492.4,64.9 C492.13,65.85 491.02,65.08 490.8,67.4 C490.58,69.72 490.82,75.85 491.1,78.8 C491.38,81.75 491.97,83.2 492.5,85.1 C493.03,87 493.78,88.08 494.3,90.2 C494.82,92.32 495.18,95.07 495.6,97.8 C496.02,100.53 496.43,104.07 496.8,106.6 C497.17,109.13 497.7,111.2 497.8,113 C497.9,114.8 497.25,116.23 497.4,117.4 C497.55,118.57 498.23,119.07 498.7,120 C499.17,120.93 499.7,121.85 500.2,123 C500.7,124.15 501.55,125.82 501.7,126.9 C501.85,127.98 501.43,128.65 501.1,129.5 C500.77,130.35 500.22,131.28 499.7,132 C499.18,132.72 498.53,133.37 498,133.8 C497.47,134.23 496.75,134.47 496.5,134.6 L484.5,134.6 C484.25,134.47 483.53,134.23 483,133.8 C482.47,133.37 481.82,132.72 481.3,132 C480.78,131.28 480.23,130.35 479.9,129.5 C479.57,128.65 479.15,127.98 479.3,126.9 C479.45,125.82 480.3,124.15 480.8,123 C481.3,121.85 481.83,120.93 482.3,120 C482.77,119.07 483.45,118.57 483.6,117.4 C483.75,116.23 483.1,114.8 483.2,113 C483.3,111.2 483.83,109.13 484.2,106.6 C484.57,104.07 484.98,100.53 485.4,97.8 C485.82,95.07 486.18,92.32 486.7,90.2 C487.22,88.08 487.97,87 488.5,85.1 C489.03,83.2 489.62,81.75 489.9,78.8 C490.18,75.85 490.42,69.72 490.2,67.4 C489.98,65.08 488.87,65.85 488.6,64.9 C488.33,63.95 488.38,62.45 488.6,61.7 C488.82,60.95 489.68,60.62 489.9,60.4 Z" fill="#d6edfb" stroke="#45ade6" stroke-width="0.9" stroke-linejoin="round"/>
<circle cx="490.5" cy="62.5" r="1.5" fill="#a6d6ef" stroke="#4a9cc8" stroke-width="0.7"/>
<circle cx="490.5" cy="94" r="1.5" fill="#a6d6ef" stroke="#4a9cc8" stroke-width="0.7"/>
<circle cx="490.5" cy="100" r="1.5" fill="#a6d6ef" stroke="#4a9cc8" stroke-width="0.7"/>
<circle cx="487.5" cy="105" r="1.5" fill="#a6d6ef" stroke="#4a9cc8" stroke-width="0.7"/>
<circle cx="493.5" cy="105" r="1.5" fill="#a6d6ef" stroke="#4a9cc8" stroke-width="0.7"/>
<circle cx="490.5" cy="110" r="1.5" fill="#a6d6ef" stroke="#4a9cc8" stroke-width="0.7"/>
<circle cx="486.5" cy="111" r="1.5" fill="#a6d6ef" stroke="#4a9cc8" stroke-width="0.7"/>
<circle cx="494.5" cy="111" r="1.5" fill="#a6d6ef" stroke="#4a9cc8" stroke-width="0.7"/>
<circle cx="490.5" cy="121" r="1.5" fill="#a6d6ef" stroke="#4a9cc8" stroke-width="0.7"/>
<circle cx="484.5" cy="126" r="1.5" fill="#a6d6ef" stroke="#4a9cc8" stroke-width="0.7"/>
<circle cx="496.5" cy="126" r="1.5" fill="#a6d6ef" stroke="#4a9cc8" stroke-width="0.7"/>
<circle cx="490.5" cy="126" r="1.5" fill="#a6d6ef" stroke="#4a9cc8" stroke-width="0.7"/>
<circle cx="487.5" cy="129" r="1.5" fill="#a6d6ef" stroke="#4a9cc8" stroke-width="0.7"/>
<circle cx="493.5" cy="129" r="1.5" fill="#a6d6ef" stroke="#4a9cc8" stroke-width="0.7"/>
<circle cx="490.5" cy="132" r="1.5" fill="#a6d6ef" stroke="#4a9cc8" stroke-width="0.7"/>
<line x1="483.6" y1="117.4" x2="497.4" y2="117.4" stroke="#1a2838" stroke-width="1.2" />
<line x1="396.8" y1="193" x2="400.2" y2="193" stroke="#0e0e0e" stroke-width="1.2" />
<text x="392.8" y="195.95" font-size="8.5" text-anchor="end" font-weight="normal" fill="#2a2a2a" stroke="#2a2a2a" stroke-width="0.22" textLength="29.4" lengthAdjust="spacingAndGlyphs" >600000</text>
<line x1="396.8" y1="230.9" x2="400.2" y2="230.9" stroke="#0e0e0e" stroke-width="1.2" />
<text x="392.8" y="233.85" font-size="8.5" text-anchor="end" font-weight="normal" fill="#2a2a2a" stroke="#2a2a2a" stroke-width="0.22" textLength="29.4" lengthAdjust="spacingAndGlyphs" >400000</text>
<line x1="396.8" y1="268.8" x2="400.2" y2="268.8" stroke="#0e0e0e" stroke-width="1.2" />
<text x="392.8" y="271.75" font-size="8.5" text-anchor="end" font-weight="normal" fill="#2a2a2a" stroke="#2a2a2a" stroke-width="0.22" textLength="29.4" lengthAdjust="spacingAndGlyphs" >200000</text>
<line x1="396.8" y1="306.7" x2="400.2" y2="306.7" stroke="#0e0e0e" stroke-width="1.2" />
<text x="392.8" y="309.65" font-size="8.5" text-anchor="end" font-weight="normal" fill="#2a2a2a" stroke="#2a2a2a" stroke-width="0.22" textLength="5" lengthAdjust="spacingAndGlyphs" >0</text>
<line x1="422.8" y1="306.7" x2="422.8" y2="309.9" stroke="#0e0e0e" stroke-width="1.2" />
<line x1="456.6" y1="306.7" x2="456.6" y2="309.9" stroke="#0e0e0e" stroke-width="1.2" />
<line x1="490.5" y1="306.7" x2="490.5" y2="309.9" stroke="#0e0e0e" stroke-width="1.2" />
<text x="422.8" y="321.1" font-size="8.3" text-anchor="middle" font-weight="normal" fill="#2a2a2a" stroke="#2a2a2a" stroke-width="0.22" textLength="26.2" lengthAdjust="spacingAndGlyphs" >MM V2</text>
<text x="456.6" y="321.1" font-size="8.3" text-anchor="middle" font-weight="normal" fill="#2a2a2a" stroke="#2a2a2a" stroke-width="0.22" textLength="27.6" lengthAdjust="spacingAndGlyphs" >WM V2</text>
<text x="490.5" y="321.1" font-size="8.3" text-anchor="middle" font-weight="normal" fill="#2a2a2a" stroke="#2a2a2a" stroke-width="0.22" textLength="25.2" lengthAdjust="spacingAndGlyphs" >NC V2</text>
<text transform="translate(356.4,247) rotate(-90)" font-size="9.3" text-anchor="middle" font-weight="bold" fill="#2a2a2a" stroke="#2a2a2a" stroke-width="0.1" textLength="77.5" lengthAdjust="spacingAndGlyphs">C3 deposition (MFI, FITC)</text>
<text x="351.15" y="182.65" font-size="11.7" text-anchor="start" font-weight="bold" fill="#111" stroke="#111" stroke-width="0.55" textLength="4.6" lengthAdjust="spacingAndGlyphs" >J</text>
<text x="456.4" y="184.2" font-size="8.4" text-anchor="middle" font-weight="normal" fill="#2a2a2a" stroke="#2a2a2a" stroke-width="0.22" textLength="20.6" lengthAdjust="spacingAndGlyphs" >WT S</text>
<line x1="422.5" y1="203.2" x2="490.8" y2="203.2" stroke="#3a3a3a" stroke-width="1.25" />
<text x="456.65" y="199.8" font-size="7.0" text-anchor="middle" font-weight="normal" fill="#3a3a3a" stroke="#3a3a3a" stroke-width="0.22" textLength="21.6" lengthAdjust="spacingAndGlyphs" >0.4593</text>
<line x1="422.5" y1="219.8" x2="454.7" y2="219.8" stroke="#3a3a3a" stroke-width="1.25" />
<text x="438.9" y="216.4" font-size="7.0" text-anchor="middle" font-weight="normal" fill="#3a3a3a" stroke="#3a3a3a" stroke-width="0.22" textLength="21.6" lengthAdjust="spacingAndGlyphs" >0.2232</text>
<line x1="458.5" y1="219.8" x2="490.8" y2="219.8" stroke="#3a3a3a" stroke-width="1.25" />
<text x="474.35" y="216.4" font-size="7.0" text-anchor="middle" font-weight="normal" fill="#3a3a3a" stroke="#3a3a3a" stroke-width="0.22" textLength="21.6" lengthAdjust="spacingAndGlyphs" >0.0790</text>
<rect x="412.3" y="250.7" width="21" height="42.4" fill="#f29ac7" stroke="#f29ac7" stroke-width="0.6"/>
<line x1="422.8" y1="231.1" x2="422.8" y2="250.7" stroke="#c8156f" stroke-width="1.2" />
<line x1="422.8" y1="293.1" x2="422.8" y2="306" stroke="#c8156f" stroke-width="1.2" />
<line x1="416.8" y1="231.1" x2="428.8" y2="231.1" stroke="#c8156f" stroke-width="1.2" />
<line x1="416.8" y1="306" x2="428.8" y2="306" stroke="#c8156f" stroke-width="1.2" />
<line x1="412.3" y1="283.6" x2="433.3" y2="283.6" stroke="#c8156f" stroke-width="1.3" />
<circle cx="422.8" cy="231" r="1.3" fill="#d0177a" stroke="#c8156f" stroke-width="0.8"/>
<circle cx="422.8" cy="240.6" r="1.3" fill="#d0177a" stroke="#c8156f" stroke-width="0.8"/>
<circle cx="422.8" cy="244.5" r="1.3" fill="#d0177a" stroke="#c8156f" stroke-width="0.8"/>
<circle cx="422.8" cy="248.5" r="1.3" fill="#d0177a" stroke="#c8156f" stroke-width="0.8"/>
<circle cx="422.8" cy="257.5" r="1.3" fill="#d0177a" stroke="#c8156f" stroke-width="0.8"/>
<circle cx="422.8" cy="260.5" r="1.3" fill="#d0177a" stroke="#c8156f" stroke-width="0.8"/>
<circle cx="422.8" cy="264" r="1.3" fill="#d0177a" stroke="#c8156f" stroke-width="0.8"/>
<circle cx="422.8" cy="282.6" r="1.3" fill="#d0177a" stroke="#c8156f" stroke-width="0.8"/>
<circle cx="422.8" cy="289.5" r="1.3" fill="#d0177a" stroke="#c8156f" stroke-width="0.8"/>
<circle cx="422.8" cy="294" r="1.3" fill="#d0177a" stroke="#c8156f" stroke-width="0.8"/>
<circle cx="422.8" cy="297" r="1.3" fill="#d0177a" stroke="#c8156f" stroke-width="0.8"/>
<circle cx="422.8" cy="300" r="1.3" fill="#d0177a" stroke="#c8156f" stroke-width="0.8"/>
<circle cx="422.8" cy="302.5" r="1.3" fill="#d0177a" stroke="#c8156f" stroke-width="0.8"/>
<circle cx="422.8" cy="305" r="1.3" fill="#d0177a" stroke="#c8156f" stroke-width="0.8"/>
<rect x="446.1" y="267" width="21" height="35.8" fill="#f9c584" stroke="#f9c584" stroke-width="0.6"/>
<line x1="456.6" y1="253.7" x2="456.6" y2="267" stroke="#e58a12" stroke-width="1.2" />
<line x1="456.6" y1="302.8" x2="456.6" y2="306" stroke="#e58a12" stroke-width="1.2" />
<line x1="450.6" y1="253.7" x2="462.6" y2="253.7" stroke="#e58a12" stroke-width="1.2" />
<line x1="450.6" y1="306" x2="462.6" y2="306" stroke="#e58a12" stroke-width="1.2" />
<line x1="446.1" y1="293.1" x2="467.1" y2="293.1" stroke="#e58a12" stroke-width="1.3" />
<circle cx="456.6" cy="253.7" r="1.3" fill="#e88e18" stroke="#e58a12" stroke-width="0.8"/>
<circle cx="456.6" cy="262" r="1.3" fill="#e88e18" stroke="#e58a12" stroke-width="0.8"/>
<circle cx="456.6" cy="264" r="1.3" fill="#e88e18" stroke="#e58a12" stroke-width="0.8"/>
<circle cx="456.6" cy="266" r="1.3" fill="#e88e18" stroke="#e58a12" stroke-width="0.8"/>
<circle cx="456.6" cy="278" r="1.3" fill="#e88e18" stroke="#e58a12" stroke-width="0.8"/>
<circle cx="456.6" cy="293" r="1.3" fill="#e88e18" stroke="#e58a12" stroke-width="0.8"/>
<circle cx="456.6" cy="300" r="1.3" fill="#e88e18" stroke="#e58a12" stroke-width="0.8"/>
<circle cx="456.6" cy="303" r="1.3" fill="#e88e18" stroke="#e58a12" stroke-width="0.8"/>
<circle cx="456.6" cy="305.5" r="1.3" fill="#e88e18" stroke="#e58a12" stroke-width="0.8"/>
<rect x="480" y="268" width="21" height="14" fill="#d6e1c0" stroke="#d6e1c0" stroke-width="0.6"/>
<line x1="490.5" y1="261.8" x2="490.5" y2="268" stroke="#98b27a" stroke-width="1.2" />
<line x1="490.5" y1="282" x2="490.5" y2="288.3" stroke="#98b27a" stroke-width="1.2" />
<line x1="484.5" y1="261.8" x2="496.5" y2="261.8" stroke="#98b27a" stroke-width="1.2" />
<line x1="484.5" y1="288.3" x2="496.5" y2="288.3" stroke="#98b27a" stroke-width="1.2" />
<line x1="480" y1="274.5" x2="501" y2="274.5" stroke="#98b27a" stroke-width="1.3" />
<circle cx="490.5" cy="261.8" r="1.3" fill="#a3bb86" stroke="#98b27a" stroke-width="0.8"/>
<circle cx="490.5" cy="266" r="1.3" fill="#a3bb86" stroke="#98b27a" stroke-width="0.8"/>
<circle cx="490.5" cy="270" r="1.3" fill="#a3bb86" stroke="#98b27a" stroke-width="0.8"/>
<circle cx="490.5" cy="274" r="1.3" fill="#a3bb86" stroke="#98b27a" stroke-width="0.8"/>
<circle cx="490.5" cy="278" r="1.3" fill="#a3bb86" stroke="#98b27a" stroke-width="0.8"/>
<circle cx="490.5" cy="283" r="1.3" fill="#a3bb86" stroke="#98b27a" stroke-width="0.8"/>
<circle cx="490.5" cy="288.3" r="1.3" fill="#a3bb86" stroke="#98b27a" stroke-width="0.8"/>
<line x1="396.8" y1="359.8" x2="400.2" y2="359.8" stroke="#0e0e0e" stroke-width="1.2" />
<text x="392.8" y="362.75" font-size="8.5" text-anchor="end" font-weight="normal" fill="#2a2a2a" stroke="#2a2a2a" stroke-width="0.22" textLength="9" lengthAdjust="spacingAndGlyphs" >15</text>
<line x1="396.8" y1="397.9" x2="400.2" y2="397.9" stroke="#0e0e0e" stroke-width="1.2" />
<text x="392.8" y="400.85" font-size="8.5" text-anchor="end" font-weight="normal" fill="#2a2a2a" stroke="#2a2a2a" stroke-width="0.22" textLength="9" lengthAdjust="spacingAndGlyphs" >10</text>
<line x1="396.8" y1="436" x2="400.2" y2="436" stroke="#0e0e0e" stroke-width="1.2" />
<text x="392.8" y="438.95" font-size="8.5" text-anchor="end" font-weight="normal" fill="#2a2a2a" stroke="#2a2a2a" stroke-width="0.22" textLength="5" lengthAdjust="spacingAndGlyphs" >5</text>
<line x1="396.8" y1="474.1" x2="400.2" y2="474.1" stroke="#0e0e0e" stroke-width="1.2" />
<text x="392.8" y="477.05" font-size="8.5" text-anchor="end" font-weight="normal" fill="#2a2a2a" stroke="#2a2a2a" stroke-width="0.22" textLength="5" lengthAdjust="spacingAndGlyphs" >0</text>
<line x1="422.8" y1="474.1" x2="422.8" y2="477.3" stroke="#0e0e0e" stroke-width="1.2" />
<line x1="456.6" y1="474.1" x2="456.6" y2="477.3" stroke="#0e0e0e" stroke-width="1.2" />
<line x1="490.5" y1="474.1" x2="490.5" y2="477.3" stroke="#0e0e0e" stroke-width="1.2" />
<text x="422.8" y="488.5" font-size="8.3" text-anchor="middle" font-weight="normal" fill="#2a2a2a" stroke="#2a2a2a" stroke-width="0.22" textLength="26.2" lengthAdjust="spacingAndGlyphs" >MM V2</text>
<text x="456.6" y="488.5" font-size="8.3" text-anchor="middle" font-weight="normal" fill="#2a2a2a" stroke="#2a2a2a" stroke-width="0.22" textLength="27.6" lengthAdjust="spacingAndGlyphs" >WM V2</text>
<text x="490.5" y="488.5" font-size="8.3" text-anchor="middle" font-weight="normal" fill="#2a2a2a" stroke="#2a2a2a" stroke-width="0.22" textLength="25.2" lengthAdjust="spacingAndGlyphs" >NC V2</text>
<text transform="translate(377,415.3) rotate(-90)" font-size="10.4" text-anchor="middle" font-weight="bold" fill="#2a2a2a" stroke="#2a2a2a" stroke-width="0.1" textLength="33" lengthAdjust="spacingAndGlyphs">% CD107a</text>
<text x="355.75" y="350.15" font-size="11.7" text-anchor="start" font-weight="bold" fill="#111" stroke="#111" stroke-width="0.55" >K</text>
<line x1="422.5" y1="374.9" x2="490.8" y2="374.9" stroke="#3a3a3a" stroke-width="1.25" />
<circle cx="454.92" cy="370.3" r="1.05" fill="#2a2a2a"/>
<circle cx="458.37" cy="370.3" r="1.05" fill="#2a2a2a"/>
<line x1="422.5" y1="389.3" x2="454.7" y2="389.3" stroke="#3a3a3a" stroke-width="1.25" />
<circle cx="437.7" cy="384.7" r="1.05" fill="#2a2a2a"/>
<line x1="458.5" y1="389.3" x2="490.8" y2="389.3" stroke="#3a3a3a" stroke-width="1.25" />
<circle cx="469.18" cy="384.7" r="1.05" fill="#2a2a2a"/>
<circle cx="472.62" cy="384.7" r="1.05" fill="#2a2a2a"/>
<circle cx="476.07" cy="384.7" r="1.05" fill="#2a2a2a"/>
<circle cx="479.53" cy="384.7" r="1.05" fill="#2a2a2a"/>
<path d="M418.9,400.6 L426.7,400.6 C426.48,401.17 425.83,402.77 425.4,404 C424.97,405.23 424.42,406.67 424.1,408 C423.78,409.33 423.42,410.67 423.5,412 C423.58,413.33 424.17,414.67 424.6,416 C425.03,417.33 425.63,418.67 426.1,420 C426.57,421.33 427.02,422.67 427.4,424 C427.78,425.33 428.13,426.67 428.4,428 C428.67,429.33 428.8,430.67 429,432 C429.2,433.33 429.43,434.75 429.6,436 C429.77,437.25 430.08,438.33 430,439.5 C429.92,440.67 429.37,441.87 429.1,443 C428.83,444.13 428.45,445.08 428.4,446.3 C428.35,447.52 428.4,449.18 428.8,450.3 C429.2,451.42 430.13,452.05 430.8,453 C431.47,453.95 432.28,454.83 432.8,456 C433.32,457.17 433.77,458.75 433.9,460 C434.03,461.25 433.95,462.5 433.6,463.5 C433.25,464.5 432.6,465.23 431.8,466 C431,466.77 429.3,467.75 428.8,468.1 L416.8,468.1 C416.3,467.75 414.6,466.77 413.8,466 C413,465.23 412.35,464.5 412,463.5 C411.65,462.5 411.57,461.25 411.7,460 C411.83,458.75 412.28,457.17 412.8,456 C413.32,454.83 414.13,453.95 414.8,453 C415.47,452.05 416.4,451.42 416.8,450.3 C417.2,449.18 417.25,447.52 417.2,446.3 C417.15,445.08 416.77,444.13 416.5,443 C416.23,441.87 415.68,440.67 415.6,439.5 C415.52,438.33 415.83,437.25 416,436 C416.17,434.75 416.4,433.33 416.6,432 C416.8,430.67 416.93,429.33 417.2,428 C417.47,426.67 417.82,425.33 418.2,424 C418.58,422.67 419.03,421.33 419.5,420 C419.97,418.67 420.57,417.33 421,416 C421.43,414.67 422.02,413.33 422.1,412 C422.18,410.67 421.82,409.33 421.5,408 C421.18,406.67 420.63,405.23 420.2,404 C419.77,402.77 419.12,401.17 418.9,400.6 Z" fill="#f7a6cf" stroke="#d81b72" stroke-width="0.9" stroke-linejoin="round"/>
<circle cx="420.3" cy="401" r="1.15" fill="#d0106a"/>
<circle cx="425.3" cy="401" r="1.15" fill="#d0106a"/>
<circle cx="422.8" cy="421" r="1.15" fill="#d0106a"/>
<circle cx="420.8" cy="425" r="1.15" fill="#d0106a"/>
<circle cx="424.8" cy="425" r="1.15" fill="#d0106a"/>
<circle cx="416.8" cy="429" r="1.15" fill="#d0106a"/>
<circle cx="427.8" cy="429" r="1.15" fill="#d0106a"/>
<circle cx="421.8" cy="438" r="1.15" fill="#d0106a"/>
<circle cx="415.8" cy="438" r="1.15" fill="#d0106a"/>
<circle cx="429.8" cy="438" r="1.15" fill="#d0106a"/>
<circle cx="424.8" cy="440" r="1.15" fill="#d0106a"/>
<circle cx="424.8" cy="444" r="1.15" fill="#d0106a"/>
<circle cx="419.8" cy="456" r="1.15" fill="#d0106a"/>
<circle cx="425.8" cy="456" r="1.15" fill="#d0106a"/>
<circle cx="415.8" cy="458" r="1.15" fill="#d0106a"/>
<circle cx="429.8" cy="458" r="1.15" fill="#d0106a"/>
<circle cx="422.8" cy="459" r="1.15" fill="#d0106a"/>
<circle cx="419.8" cy="461" r="1.15" fill="#d0106a"/>
<circle cx="425.8" cy="461" r="1.15" fill="#d0106a"/>
<circle cx="414.8" cy="464" r="1.15" fill="#d0106a"/>
<circle cx="430.8" cy="464" r="1.15" fill="#d0106a"/>
<circle cx="415.8" cy="467" r="1.15" fill="#d0106a"/>
<circle cx="425.8" cy="467" r="1.15" fill="#d0106a"/>
<line x1="416.8" y1="450.3" x2="428.8" y2="450.3" stroke="#6a0a3a" stroke-width="1.2" />
<path d="M455.8,441.8 L457.4,441.8 C457.43,442 457.71,442.63 457.6,443 C457.49,443.37 456.89,442.83 456.75,444 C456.61,445.17 456.56,448.72 456.75,450 C456.94,451.28 457.9,451.12 457.9,451.7 C457.9,452.28 456.94,452.73 456.75,453.5 C456.56,454.27 456.11,455.32 456.75,456.3 C457.39,457.28 458.88,458.48 460.6,459.4 C462.33,460.32 465.9,460.98 467.1,461.8 C468.3,462.62 468.05,463.57 467.8,464.3 C467.55,465.03 465.97,465.88 465.6,466.2 L447.6,466.2 C447.23,465.88 445.65,465.03 445.4,464.3 C445.15,463.57 444.9,462.62 446.1,461.8 C447.3,460.98 450.88,460.32 452.6,459.4 C454.33,458.48 455.81,457.28 456.45,456.3 C457.09,455.32 456.64,454.27 456.45,453.5 C456.26,452.73 455.3,452.28 455.3,451.7 C455.3,451.12 456.26,451.28 456.45,450 C456.64,448.72 456.59,445.17 456.45,444 C456.31,442.83 455.71,443.37 455.6,443 C455.49,442.63 455.77,442 455.8,441.8 Z" fill="#fbd59f" stroke="#f08c10" stroke-width="0.9" stroke-linejoin="round"/>
<circle cx="456.6" cy="442.5" r="1.1" fill="#e88a10"/>
<circle cx="456.6" cy="452" r="1.1" fill="#e88a10"/>
<circle cx="451.6" cy="461" r="1.1" fill="#e88a10"/>
<circle cx="447.6" cy="462" r="1.1" fill="#e88a10"/>
<circle cx="456.6" cy="458" r="1.1" fill="#e88a10"/>
<circle cx="451.6" cy="465" r="1.1" fill="#e88a10"/>
<circle cx="456.6" cy="465" r="1.1" fill="#e88a10"/>
<circle cx="461.6" cy="465" r="1.1" fill="#e88a10"/>
<circle cx="465.6" cy="465" r="1.1" fill="#e88a10"/>
<line x1="445.57" y1="463.7" x2="467.63" y2="463.7" stroke="#6b3a00" stroke-width="1.2" />
<path d="M488.5,408.3 L492.5,408.3 C492.75,408.5 493.42,408.55 494,409.5 C494.58,410.45 495.32,412.38 496,414 C496.68,415.62 497.35,417.53 498.1,419.2 C498.85,420.87 499.92,422.65 500.5,424 C501.08,425.35 501.77,426.13 501.6,427.3 C501.43,428.47 500.2,429.65 499.5,431 C498.8,432.35 498.07,434.07 497.4,435.4 C496.73,436.73 496.18,437.82 495.5,439 C494.82,440.18 493.67,441.92 493.3,442.5 L487.7,442.5 C487.33,441.92 486.18,440.18 485.5,439 C484.82,437.82 484.27,436.73 483.6,435.4 C482.93,434.07 482.2,432.35 481.5,431 C480.8,429.65 479.57,428.47 479.4,427.3 C479.23,426.13 479.92,425.35 480.5,424 C481.08,422.65 482.15,420.87 482.9,419.2 C483.65,417.53 484.32,415.62 485,414 C485.68,412.38 486.42,410.45 487,409.5 C487.58,408.55 488.25,408.5 488.5,408.3 Z" fill="#e3ead0" stroke="#b9c79a" stroke-width="0.9" stroke-linejoin="round"/>
<circle cx="490.5" cy="412" r="1.15" fill="#b3c292"/>
<circle cx="487.5" cy="418" r="1.15" fill="#b3c292"/>
<circle cx="493.5" cy="418" r="1.15" fill="#b3c292"/>
<circle cx="490.5" cy="422" r="1.15" fill="#b3c292"/>
<circle cx="485.5" cy="425" r="1.15" fill="#b3c292"/>
<circle cx="495.5" cy="425" r="1.15" fill="#b3c292"/>
<circle cx="490.5" cy="430" r="1.15" fill="#b3c292"/>
<circle cx="486.5" cy="433" r="1.15" fill="#b3c292"/>
<circle cx="494.5" cy="433" r="1.15" fill="#b3c292"/>
<circle cx="490.5" cy="437" r="1.15" fill="#b3c292"/>
<circle cx="490.5" cy="441" r="1.15" fill="#b3c292"/>
<line x1="479.4" y1="427.3" x2="501.6" y2="427.3" stroke="#2a2a1a" stroke-width="1.2" />
<line x1="396.8" y1="527" x2="400.2" y2="527" stroke="#0e0e0e" stroke-width="1.2" />
<text x="392.8" y="529.95" font-size="8.5" text-anchor="end" font-weight="normal" fill="#2a2a2a" stroke="#2a2a2a" stroke-width="0.22" textLength="9" lengthAdjust="spacingAndGlyphs" >20</text>
<line x1="396.8" y1="584" x2="400.2" y2="584" stroke="#0e0e0e" stroke-width="1.2" />
<text x="392.8" y="586.95" font-size="8.5" text-anchor="end" font-weight="normal" fill="#2a2a2a" stroke="#2a2a2a" stroke-width="0.22" textLength="9" lengthAdjust="spacingAndGlyphs" >10</text>
<line x1="396.8" y1="641" x2="400.2" y2="641" stroke="#0e0e0e" stroke-width="1.2" />
<text x="392.8" y="643.95" font-size="8.5" text-anchor="end" font-weight="normal" fill="#2a2a2a" stroke="#2a2a2a" stroke-width="0.22" textLength="5" lengthAdjust="spacingAndGlyphs" >0</text>
<line x1="422.8" y1="641" x2="422.8" y2="644.2" stroke="#0e0e0e" stroke-width="1.2" />
<line x1="456.6" y1="641" x2="456.6" y2="644.2" stroke="#0e0e0e" stroke-width="1.2" />
<line x1="490.5" y1="641" x2="490.5" y2="644.2" stroke="#0e0e0e" stroke-width="1.2" />
<text x="422.8" y="655.4" font-size="8.3" text-anchor="middle" font-weight="normal" fill="#2a2a2a" stroke="#2a2a2a" stroke-width="0.22" textLength="26.2" lengthAdjust="spacingAndGlyphs" >MM V2</text>
<text x="456.6" y="655.4" font-size="8.3" text-anchor="middle" font-weight="normal" fill="#2a2a2a" stroke="#2a2a2a" stroke-width="0.22" textLength="27.6" lengthAdjust="spacingAndGlyphs" >WM V2</text>
<text x="490.5" y="655.4" font-size="8.3" text-anchor="middle" font-weight="normal" fill="#2a2a2a" stroke="#2a2a2a" stroke-width="0.22" textLength="25.2" lengthAdjust="spacingAndGlyphs" >NC V2</text>
<text transform="translate(377,582.5) rotate(-90)" font-size="10.4" text-anchor="middle" font-weight="bold" fill="#2a2a2a" stroke="#2a2a2a" stroke-width="0.1" textLength="23" lengthAdjust="spacingAndGlyphs">% IFN<tspan font-size="7.6" dy="1.3">γ</tspan></text>
<text x="358.35" y="517.15" font-size="11.7" text-anchor="start" font-weight="bold" fill="#111" stroke="#111" stroke-width="0.55" >L</text>
<line x1="422.5" y1="539.9" x2="490.8" y2="539.9" stroke="#3a3a3a" stroke-width="1.25" />
<circle cx="456.65" cy="535.3" r="1.05" fill="#2a2a2a"/>
<line x1="422.5" y1="554.3" x2="454.7" y2="554.3" stroke="#3a3a3a" stroke-width="1.25" />
<circle cx="437.7" cy="549.7" r="1.05" fill="#2a2a2a"/>
<line x1="458.5" y1="554.3" x2="490.8" y2="554.3" stroke="#3a3a3a" stroke-width="1.25" />
<circle cx="469.18" cy="549.7" r="1.05" fill="#2a2a2a"/>
<circle cx="472.62" cy="549.7" r="1.05" fill="#2a2a2a"/>
<circle cx="476.07" cy="549.7" r="1.05" fill="#2a2a2a"/>
<circle cx="479.53" cy="549.7" r="1.05" fill="#2a2a2a"/>
<path d="M421.1,559 L424.5,559 C424.58,560 424.78,562.3 425,565 C425.22,567.7 425.5,571.48 425.8,575.2 C426.1,578.92 425.88,583.93 426.8,587.3 C427.72,590.67 430.15,592.7 431.3,595.4 C432.45,598.1 433.25,601.57 433.7,603.5 C434.15,605.43 433.93,605.67 434,607 C434.07,608.33 434.22,609.83 434.1,611.5 C433.98,613.17 433.73,614.97 433.3,617 C432.87,619.03 432.17,621.87 431.5,623.7 C430.83,625.53 429.92,627.03 429.3,628 C428.68,628.97 428.05,629.25 427.8,629.5 L417.8,629.5 C417.55,629.25 416.92,628.97 416.3,628 C415.68,627.03 414.77,625.53 414.1,623.7 C413.43,621.87 412.73,619.03 412.3,617 C411.87,614.97 411.62,613.17 411.5,611.5 C411.38,609.83 411.53,608.33 411.6,607 C411.67,605.67 411.45,605.43 411.9,603.5 C412.35,601.57 413.15,598.1 414.3,595.4 C415.45,592.7 417.88,590.67 418.8,587.3 C419.72,583.93 419.5,578.92 419.8,575.2 C420.1,571.48 420.38,567.7 420.6,565 C420.82,562.3 421.02,560 421.1,559 Z" fill="#f7a6cf" stroke="#d81b72" stroke-width="0.9" stroke-linejoin="round"/>
<circle cx="422.8" cy="560" r="1.15" fill="#d0106a"/>
<circle cx="422.8" cy="567" r="1.15" fill="#d0106a"/>
<circle cx="427.3" cy="573" r="1.15" fill="#d0106a"/>
<circle cx="422.8" cy="580" r="1.15" fill="#d0106a"/>
<circle cx="422.8" cy="586" r="1.15" fill="#d0106a"/>
<circle cx="417.8" cy="601" r="1.15" fill="#d0106a"/>
<circle cx="422.8" cy="601" r="1.15" fill="#d0106a"/>
<circle cx="427.8" cy="601" r="1.15" fill="#d0106a"/>
<circle cx="413.8" cy="604" r="1.15" fill="#d0106a"/>
<circle cx="431.8" cy="604" r="1.15" fill="#d0106a"/>
<circle cx="418.8" cy="612" r="1.15" fill="#d0106a"/>
<circle cx="422.8" cy="610" r="1.15" fill="#d0106a"/>
<circle cx="427.8" cy="612" r="1.15" fill="#d0106a"/>
<circle cx="417.8" cy="618" r="1.15" fill="#d0106a"/>
<circle cx="422.8" cy="618" r="1.15" fill="#d0106a"/>
<circle cx="427.8" cy="617" r="1.15" fill="#d0106a"/>
<circle cx="422.8" cy="622" r="1.15" fill="#d0106a"/>
<circle cx="417.8" cy="625" r="1.15" fill="#d0106a"/>
<circle cx="422.8" cy="626" r="1.15" fill="#d0106a"/>
<circle cx="427.8" cy="625" r="1.15" fill="#d0106a"/>
<line x1="411.64" y1="606.5" x2="433.96" y2="606.5" stroke="#6a0a3a" stroke-width="1.2" />
<path d="M455.4,608.5 L457.8,608.5 C457.82,608.67 458.07,609.08 457.9,609.5 C457.73,609.92 456.98,610.08 456.8,611 C456.62,611.92 455.42,613.92 456.8,615 C458.18,616.08 463.3,616.8 465.1,617.5 C466.9,618.2 467.18,618.02 467.6,619.2 C468.02,620.38 467.77,623.63 467.6,624.6 C467.43,625.57 466.77,624.93 466.6,625 L446.6,625 C446.43,624.93 445.77,625.57 445.6,624.6 C445.43,623.63 445.18,620.38 445.6,619.2 C446.02,618.02 446.3,618.2 448.1,617.5 C449.9,616.8 455.02,616.08 456.4,615 C457.78,613.92 456.58,611.92 456.4,611 C456.22,610.08 455.47,609.92 455.3,609.5 C455.13,609.08 455.38,608.67 455.4,608.5 Z" fill="#fbd59f" stroke="#f08c10" stroke-width="0.9" stroke-linejoin="round"/>
<circle cx="456.6" cy="609.5" r="1.1" fill="#e88a10"/>
<circle cx="448.6" cy="620" r="1.1" fill="#e88a10"/>
<circle cx="452.6" cy="620" r="1.1" fill="#e88a10"/>
<circle cx="456.6" cy="620" r="1.1" fill="#e88a10"/>
<circle cx="460.6" cy="620" r="1.1" fill="#e88a10"/>
<circle cx="464.6" cy="620" r="1.1" fill="#e88a10"/>
<circle cx="448.6" cy="623" r="1.1" fill="#e88a10"/>
<circle cx="452.6" cy="623" r="1.1" fill="#e88a10"/>
<circle cx="456.6" cy="623" r="1.1" fill="#e88a10"/>
<circle cx="460.6" cy="623" r="1.1" fill="#e88a10"/>
<circle cx="464.6" cy="623" r="1.1" fill="#e88a10"/>
<circle cx="466.6" cy="616" r="1.1" fill="#e88a10"/>
<circle cx="466.6" cy="619" r="1.1" fill="#e88a10"/>
<circle cx="466.6" cy="622" r="1.1" fill="#e88a10"/>
<line x1="445.6" y1="620.3" x2="467.6" y2="620.3" stroke="#6b3a00" stroke-width="1.2" />
<path d="M488,571.3 L493,571.3 C493.25,571.5 493.92,571.72 494.5,572.5 C495.08,573.28 495.92,574.77 496.5,576 C497.08,577.23 497.42,578.57 498,579.9 C498.58,581.23 499.48,582.85 500,584 C500.52,585.15 500.92,586.07 501.1,586.8 C501.28,587.53 501.45,587.7 501.1,588.4 C500.75,589.1 499.73,590.1 499,591 C498.27,591.9 497.45,592.8 496.7,593.8 C495.95,594.8 495.1,595.85 494.5,597 C493.9,598.15 493.38,599.53 493.1,600.7 C492.82,601.87 492.92,602.95 492.8,604 C492.68,605.05 492.47,606.5 492.4,607 L488.6,607 C488.53,606.5 488.32,605.05 488.2,604 C488.08,602.95 488.18,601.87 487.9,600.7 C487.62,599.53 487.1,598.15 486.5,597 C485.9,595.85 485.05,594.8 484.3,593.8 C483.55,592.8 482.73,591.9 482,591 C481.27,590.1 480.25,589.1 479.9,588.4 C479.55,587.7 479.72,587.53 479.9,586.8 C480.08,586.07 480.48,585.15 481,584 C481.52,582.85 482.42,581.23 483,579.9 C483.58,578.57 483.92,577.23 484.5,576 C485.08,574.77 485.92,573.28 486.5,572.5 C487.08,571.72 487.75,571.5 488,571.3 Z" fill="#e3ead0" stroke="#c0cca0" stroke-width="0.9" stroke-linejoin="round"/>
<circle cx="490.5" cy="575" r="1.15" fill="#b3c292"/>
<circle cx="490.5" cy="579" r="1.15" fill="#b3c292"/>
<circle cx="486.5" cy="582" r="1.15" fill="#b3c292"/>
<circle cx="494.5" cy="582" r="1.15" fill="#b3c292"/>
<circle cx="490.5" cy="585" r="1.15" fill="#b3c292"/>
<circle cx="485.5" cy="592" r="1.15" fill="#b3c292"/>
<circle cx="493.5" cy="592" r="1.15" fill="#b3c292"/>
<circle cx="490.5" cy="596" r="1.15" fill="#b3c292"/>
<circle cx="487.5" cy="599" r="1.15" fill="#b3c292"/>
<circle cx="493.5" cy="599" r="1.15" fill="#b3c292"/>
<line x1="479.9" y1="588.4" x2="501.1" y2="588.4" stroke="#1a1a10" stroke-width="1.2" />
<line x1="40.85" y1="22.7" x2="40.85" y2="140.1" stroke="#0e0e0e" stroke-width="1.5"/>
<line x1="40.2" y1="139.4" x2="153.5" y2="139.4" stroke="#0e0e0e" stroke-width="1.45"/>
<line x1="40.85" y1="189.7" x2="40.85" y2="307.4" stroke="#0e0e0e" stroke-width="1.5"/>
<line x1="40.2" y1="306.7" x2="153.5" y2="306.7" stroke="#0e0e0e" stroke-width="1.45"/>
<line x1="40.85" y1="356.5" x2="40.85" y2="474.8" stroke="#0e0e0e" stroke-width="1.5"/>
<line x1="40.2" y1="474.1" x2="153.5" y2="474.1" stroke="#0e0e0e" stroke-width="1.45"/>
<line x1="40.85" y1="523.7" x2="40.85" y2="641.7" stroke="#0e0e0e" stroke-width="1.5"/>
<line x1="40.2" y1="641" x2="153.5" y2="641" stroke="#0e0e0e" stroke-width="1.45"/>
<line x1="217.85" y1="22.7" x2="217.85" y2="140.1" stroke="#0e0e0e" stroke-width="1.5"/>
<line x1="217.2" y1="139.4" x2="331" y2="139.4" stroke="#0e0e0e" stroke-width="1.45"/>
<line x1="217.85" y1="189.7" x2="217.85" y2="307.4" stroke="#0e0e0e" stroke-width="1.5"/>
<line x1="217.2" y1="306.7" x2="331" y2="306.7" stroke="#0e0e0e" stroke-width="1.45"/>
<line x1="217.85" y1="356.5" x2="217.85" y2="474.8" stroke="#0e0e0e" stroke-width="1.5"/>
<line x1="217.2" y1="474.1" x2="331" y2="474.1" stroke="#0e0e0e" stroke-width="1.45"/>
<line x1="217.85" y1="523.7" x2="217.85" y2="641.7" stroke="#0e0e0e" stroke-width="1.5"/>
<line x1="217.2" y1="641" x2="331" y2="641" stroke="#0e0e0e" stroke-width="1.45"/>
<line x1="400.05" y1="22.7" x2="400.05" y2="140.1" stroke="#0e0e0e" stroke-width="1.5"/>
<line x1="399.4" y1="139.4" x2="513.3" y2="139.4" stroke="#0e0e0e" stroke-width="1.45"/>
<line x1="400.05" y1="189.7" x2="400.05" y2="307.4" stroke="#0e0e0e" stroke-width="1.5"/>
<line x1="399.4" y1="306.7" x2="513.3" y2="306.7" stroke="#0e0e0e" stroke-width="1.45"/>
<line x1="400.05" y1="356.5" x2="400.05" y2="474.8" stroke="#0e0e0e" stroke-width="1.5"/>
<line x1="399.4" y1="474.1" x2="513.3" y2="474.1" stroke="#0e0e0e" stroke-width="1.45"/>
<line x1="400.05" y1="523.7" x2="400.05" y2="641.7" stroke="#0e0e0e" stroke-width="1.5"/>
<line x1="399.4" y1="641" x2="513.3" y2="641" stroke="#0e0e0e" stroke-width="1.45"/>
<rect x="0.65" y="0.65" width="518.7" height="661.7" fill="none" stroke="#505050" stroke-width="1.3"/>
</svg></div></body></html>
